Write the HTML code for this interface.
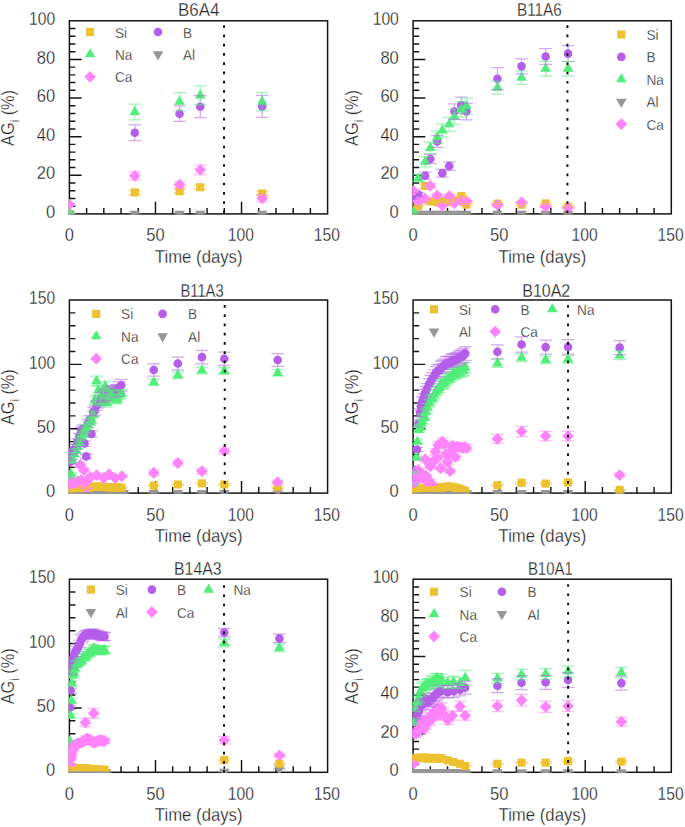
<!DOCTYPE html>
<html><head><meta charset="utf-8"><title>AG plots</title>
<style>html,body{margin:0;padding:0;background:#fff}svg{display:block}text{font-family:"Liberation Sans",sans-serif;fill:#222222;stroke:#fff;stroke-width:0.28px}</style></head><body>
<svg width="685" height="827" viewBox="0 0 685 827">
<rect width="685" height="827" fill="#fff"/>
<g>
<path d="M86.61 213.9v-6M103.83 213.9v-6M121.04 213.9v-6M138.25 213.9v-6M155.47 213.9v-12.2M172.68 213.9v-6M189.89 213.9v-6M207.11 213.9v-6M224.32 213.9v-6M241.53 213.9v-12.2M258.75 213.9v-6M275.96 213.9v-6M293.17 213.9v-6M310.39 213.9v-6M69.4 206.18h6M69.4 198.45h6M69.4 190.73h6M69.4 183h6M69.4 175.28h12.2M69.4 167.56h6M69.4 159.83h6M69.4 152.11h6M69.4 144.38h6M69.4 136.66h12.2M69.4 128.94h6M69.4 121.21h6M69.4 113.49h6M69.4 105.76h6M69.4 98.04h12.2M69.4 90.32h6M69.4 82.59h6M69.4 74.87h6M69.4 67.14h6M69.4 59.42h12.2M69.4 51.7h6M69.4 43.97h6M69.4 36.25h6M69.4 28.52h6" stroke="#141414" stroke-width="1.45" fill="none"/>
<rect x="69.4" y="20.8" width="258.2" height="193.1" fill="none" stroke="#141414" stroke-width="1.5"/>
<text transform="translate(69.4,241.4) scale(0.93,1)" font-size="17.8" text-anchor="middle">0</text>
<text transform="translate(155.47,241.4) scale(0.93,1)" font-size="17.8" text-anchor="middle">50</text>
<text transform="translate(240.83,241.4) scale(0.88,1)" font-size="17.8" text-anchor="middle">100</text>
<text transform="translate(326.9,241.4) scale(0.88,1)" font-size="17.8" text-anchor="middle">150</text>
<text transform="translate(55.1,218.05) scale(0.93,1)" font-size="17.8" text-anchor="end">0</text>
<text transform="translate(55.1,179.43) scale(0.93,1)" font-size="17.8" text-anchor="end">20</text>
<text transform="translate(55.1,140.81) scale(0.93,1)" font-size="17.8" text-anchor="end">40</text>
<text transform="translate(55.1,102.19) scale(0.93,1)" font-size="17.8" text-anchor="end">60</text>
<text transform="translate(55.1,63.57) scale(0.93,1)" font-size="17.8" text-anchor="end">80</text>
<text transform="translate(55.1,24.95) scale(0.88,1)" font-size="17.8" text-anchor="end">100</text>
<text transform="translate(198.7,262.8) scale(0.93,1)" font-size="18" text-anchor="middle">Time (days)</text>
<text transform="translate(14.4,117.95) rotate(-90) scale(0.885,1)" font-size="18.4" text-anchor="middle">AG<tspan font-size="12.5" dy="5">i</tspan><tspan dy="-5"> (%)</tspan></text>
<text transform="translate(178.04,16.4) scale(0.94,1)" font-size="18" text-anchor="start">B6A4</text>
<rect x="86.05" y="27.95" width="8.1" height="8.1" fill="#ECC230"/>
<text transform="translate(115,37.5) scale(0.95,1)" font-size="14.3" text-anchor="start">Si</text>
<circle cx="158" cy="32" r="4.3" fill="#B45EEA"/>
<text transform="translate(182.9,37.5) scale(0.95,1)" font-size="14.3" text-anchor="start">B</text>
<path d="M90.1 48.17l5.3 9.2h-10.6z" fill="#52EE7A"/>
<text transform="translate(115,59.8) scale(0.95,1)" font-size="14.3" text-anchor="start">Na</text>
<path d="M158 60.43l-5.3 -9.2h10.6z" fill="#979797"/>
<text transform="translate(182.9,59.8) scale(0.95,1)" font-size="14.3" text-anchor="start">Al</text>
<path d="M90.1 70.9l5.8 5.9l-5.8 5.9l-5.8 -5.9z" fill="#FF84FA"/>
<text transform="translate(115,82.3) scale(0.95,1)" font-size="14.3" text-anchor="start">Ca</text>
<clipPath id="c0"><rect x="68.65" y="20.05" width="259.7" height="194.6"/></clipPath>
<g clip-path="url(#c0)">
<path d="M69.4 220.03l-5.3 -9.2h10.6z" fill="#979797"/><path d="M134.81 220.03l-5.3 -9.2h10.6z" fill="#979797"/><path d="M179.57 220.03l-5.3 -9.2h10.6z" fill="#979797"/><path d="M200.22 220.03l-5.3 -9.2h10.6z" fill="#979797"/><path d="M262.19 220.03l-5.3 -9.2h10.6z" fill="#979797"/>
<rect x="65.35" y="209.85" width="8.1" height="8.1" fill="#ECC230"/><rect x="130.76" y="188.42" width="8.1" height="8.1" fill="#ECC230"/><rect x="175.52" y="187.26" width="8.1" height="8.1" fill="#ECC230"/><rect x="196.17" y="183.2" width="8.1" height="8.1" fill="#ECC230"/><rect x="258.14" y="189.38" width="8.1" height="8.1" fill="#ECC230"/>
<circle cx="69.4" cy="213.9" r="4.3" fill="#B45EEA"/><circle cx="134.81" cy="132.8" r="4.3" fill="#B45EEA"/><circle cx="179.57" cy="113.68" r="4.3" fill="#B45EEA"/><circle cx="200.22" cy="106.73" r="4.3" fill="#B45EEA"/><circle cx="262.19" cy="106.34" r="4.3" fill="#B45EEA"/>
<path d="M69.4 206.61l5.3 9.2h-10.6z" fill="#52EE7A"/><path d="M134.81 105.81l5.3 9.2h-10.6z" fill="#52EE7A"/><path d="M179.57 95.58l5.3 9.2h-10.6z" fill="#52EE7A"/><path d="M200.22 89.21l5.3 9.2h-10.6z" fill="#52EE7A"/><path d="M262.19 95.58l5.3 9.2h-10.6z" fill="#52EE7A"/>
<path d="M69.4 198.73l5.8 5.9l-5.8 5.9l-5.8 -5.9z" fill="#FF84FA"/><path d="M134.81 169.96l5.8 5.9l-5.8 5.9l-5.8 -5.9z" fill="#FF84FA"/><path d="M179.57 178.84l5.8 5.9l-5.8 5.9l-5.8 -5.9z" fill="#FF84FA"/><path d="M200.22 163.97l5.8 5.9l-5.8 5.9l-5.8 -5.9z" fill="#FF84FA"/><path d="M262.19 192.36l5.8 5.9l-5.8 5.9l-5.8 -5.9z" fill="#FF84FA"/>
<g fill="none" stroke-width="1.25" stroke-opacity="0.55"><path d="M63.1 213.9h12.6" stroke="#979797"/><path d="M128.51 213.9h12.6" stroke="#979797"/><path d="M173.27 213.9h12.6" stroke="#979797"/><path d="M193.92 213.9h12.6" stroke="#979797"/><path d="M255.89 213.9h12.6" stroke="#979797"/><path d="M63.1 213.9h12.6" stroke="#ECC230"/><path d="M134.81 190.53v3.86M128.51 190.53h12.6M128.51 194.4h12.6" stroke="#ECC230"/><path d="M179.57 189.38v3.86M173.27 189.38h12.6M173.27 193.24h12.6" stroke="#ECC230"/><path d="M200.22 185.32v3.86M193.92 185.32h12.6M193.92 189.18h12.6" stroke="#ECC230"/><path d="M262.19 191.5v3.86M255.89 191.5h12.6M255.89 195.36h12.6" stroke="#ECC230"/><path d="M63.1 213.9h12.6" stroke="#B45EEA"/><path d="M134.81 124.88v15.83M128.51 124.88h12.6M128.51 140.72h12.6" stroke="#B45EEA"/><path d="M179.57 105.96v15.45M173.27 105.96h12.6M173.27 121.41h12.6" stroke="#B45EEA"/><path d="M200.22 95.72v22.01M193.92 95.72h12.6M193.92 117.74h12.6" stroke="#B45EEA"/><path d="M262.19 95.34v22.01M255.89 95.34h12.6M255.89 117.35h12.6" stroke="#B45EEA"/><path d="M63.1 212.74h12.6" stroke="#52EE7A"/><path d="M134.81 104.03v15.83M128.51 104.03h12.6M128.51 119.86h12.6" stroke="#52EE7A"/><path d="M179.57 92.63v18.15M173.27 92.63h12.6M173.27 110.78h12.6" stroke="#52EE7A"/><path d="M200.22 85.87v18.92M193.92 85.87h12.6M193.92 104.8h12.6" stroke="#52EE7A"/><path d="M262.19 92.63v18.15M255.89 92.63h12.6M255.89 110.78h12.6" stroke="#52EE7A"/><path d="M69.4 203.86v1.54M63.1 203.86h12.6M63.1 205.4h12.6" stroke="#FF84FA"/><path d="M134.81 171.8v8.11M128.51 171.8h12.6M128.51 179.91h12.6" stroke="#FF84FA"/><path d="M179.57 181.85v5.79M173.27 181.85h12.6M173.27 187.64h12.6" stroke="#FF84FA"/><path d="M200.22 165.24v9.27M193.92 165.24h12.6M193.92 174.51h12.6" stroke="#FF84FA"/><path d="M262.19 194.98v6.57M255.89 194.98h12.6M255.89 201.54h12.6" stroke="#FF84FA"/></g>
</g>
<path d="M224.02 25.25V214.4" stroke="#111" stroke-width="2" stroke-dasharray="2.7 6.56" fill="none"/>
</g>
<g>
<path d="M430.31 213.9v-6M447.53 213.9v-6M464.74 213.9v-6M481.95 213.9v-6M499.17 213.9v-12.2M516.38 213.9v-6M533.59 213.9v-6M550.81 213.9v-6M568.02 213.9v-6M585.23 213.9v-12.2M602.45 213.9v-6M619.66 213.9v-6M636.87 213.9v-6M654.09 213.9v-6M413.1 206.18h6M413.1 198.45h6M413.1 190.73h6M413.1 183h6M413.1 175.28h12.2M413.1 167.56h6M413.1 159.83h6M413.1 152.11h6M413.1 144.38h6M413.1 136.66h12.2M413.1 128.94h6M413.1 121.21h6M413.1 113.49h6M413.1 105.76h6M413.1 98.04h12.2M413.1 90.32h6M413.1 82.59h6M413.1 74.87h6M413.1 67.14h6M413.1 59.42h12.2M413.1 51.7h6M413.1 43.97h6M413.1 36.25h6M413.1 28.52h6" stroke="#141414" stroke-width="1.45" fill="none"/>
<rect x="413.1" y="20.8" width="258.2" height="193.1" fill="none" stroke="#141414" stroke-width="1.5"/>
<text transform="translate(413.1,241.4) scale(0.93,1)" font-size="17.8" text-anchor="middle">0</text>
<text transform="translate(499.17,241.4) scale(0.93,1)" font-size="17.8" text-anchor="middle">50</text>
<text transform="translate(584.53,241.4) scale(0.88,1)" font-size="17.8" text-anchor="middle">100</text>
<text transform="translate(670.6,241.4) scale(0.88,1)" font-size="17.8" text-anchor="middle">150</text>
<text transform="translate(398.8,218.05) scale(0.93,1)" font-size="17.8" text-anchor="end">0</text>
<text transform="translate(398.8,179.43) scale(0.93,1)" font-size="17.8" text-anchor="end">20</text>
<text transform="translate(398.8,140.81) scale(0.93,1)" font-size="17.8" text-anchor="end">40</text>
<text transform="translate(398.8,102.19) scale(0.93,1)" font-size="17.8" text-anchor="end">60</text>
<text transform="translate(398.8,63.57) scale(0.93,1)" font-size="17.8" text-anchor="end">80</text>
<text transform="translate(398.8,24.95) scale(0.88,1)" font-size="17.8" text-anchor="end">100</text>
<text transform="translate(542.4,262.8) scale(0.93,1)" font-size="18" text-anchor="middle">Time (days)</text>
<text transform="translate(358.1,117.95) rotate(-90) scale(0.885,1)" font-size="18.4" text-anchor="middle">AG<tspan font-size="12.5" dy="5">i</tspan><tspan dy="-5"> (%)</tspan></text>
<text transform="translate(516.95,16.4) scale(0.85,1)" font-size="18" text-anchor="start">B11A6</text>
<rect x="617.25" y="30.45" width="8.1" height="8.1" fill="#ECC230"/>
<text transform="translate(646.4,40) scale(0.95,1)" font-size="14.3" text-anchor="start">Si</text>
<circle cx="621.3" cy="56.9" r="4.3" fill="#B45EEA"/>
<text transform="translate(646.4,62.4) scale(0.95,1)" font-size="14.3" text-anchor="start">B</text>
<path d="M621.3 73.17l5.3 9.2h-10.6z" fill="#52EE7A"/>
<text transform="translate(646.4,84.8) scale(0.95,1)" font-size="14.3" text-anchor="start">Na</text>
<path d="M621.3 107.83l-5.3 -9.2h10.6z" fill="#979797"/>
<text transform="translate(646.4,107.2) scale(0.95,1)" font-size="14.3" text-anchor="start">Al</text>
<path d="M621.3 118.2l5.8 5.9l-5.8 5.9l-5.8 -5.9z" fill="#FF84FA"/>
<text transform="translate(646.4,129.6) scale(0.95,1)" font-size="14.3" text-anchor="start">Ca</text>
<clipPath id="c1"><rect x="412.35" y="20.05" width="259.7" height="194.6"/></clipPath>
<g clip-path="url(#c1)">
<path d="M413.62 220.03l-5.3 -9.2h10.6z" fill="#979797"/><path d="M414.82 220.03l-5.3 -9.2h10.6z" fill="#979797"/><path d="M418.26 220.03l-5.3 -9.2h10.6z" fill="#979797"/><path d="M425.15 220.03l-5.3 -9.2h10.6z" fill="#979797"/><path d="M430.31 220.03l-5.3 -9.2h10.6z" fill="#979797"/><path d="M437.2 220.03l-5.3 -9.2h10.6z" fill="#979797"/><path d="M442.36 220.03l-5.3 -9.2h10.6z" fill="#979797"/><path d="M449.25 220.03l-5.3 -9.2h10.6z" fill="#979797"/><path d="M454.41 220.03l-5.3 -9.2h10.6z" fill="#979797"/><path d="M461.3 220.03l-5.3 -9.2h10.6z" fill="#979797"/><path d="M466.46 220.03l-5.3 -9.2h10.6z" fill="#979797"/><path d="M497.45 220.03l-5.3 -9.2h10.6z" fill="#979797"/><path d="M521.54 220.03l-5.3 -9.2h10.6z" fill="#979797"/><path d="M545.64 220.03l-5.3 -9.2h10.6z" fill="#979797"/><path d="M568.02 220.03l-5.3 -9.2h10.6z" fill="#979797"/>
<rect x="414.21" y="202.13" width="8.1" height="8.1" fill="#ECC230"/><rect x="421.1" y="181.85" width="8.1" height="8.1" fill="#ECC230"/><rect x="426.26" y="197.3" width="8.1" height="8.1" fill="#ECC230"/><rect x="433.15" y="198.26" width="8.1" height="8.1" fill="#ECC230"/><rect x="438.31" y="196.91" width="8.1" height="8.1" fill="#ECC230"/><rect x="445.2" y="197.88" width="8.1" height="8.1" fill="#ECC230"/><rect x="450.36" y="196.33" width="8.1" height="8.1" fill="#ECC230"/><rect x="457.25" y="192.08" width="8.1" height="8.1" fill="#ECC230"/><rect x="462.41" y="200.58" width="8.1" height="8.1" fill="#ECC230"/><rect x="493.4" y="199.62" width="8.1" height="8.1" fill="#ECC230"/><rect x="517.49" y="200.58" width="8.1" height="8.1" fill="#ECC230"/><rect x="541.59" y="199.42" width="8.1" height="8.1" fill="#ECC230"/><rect x="563.97" y="202.71" width="8.1" height="8.1" fill="#ECC230"/>
<circle cx="413.44" cy="197.49" r="4.3" fill="#B45EEA"/><circle cx="418.26" cy="194.59" r="4.3" fill="#B45EEA"/><circle cx="425.15" cy="175.67" r="4.3" fill="#B45EEA"/><circle cx="430.31" cy="159.06" r="4.3" fill="#B45EEA"/><circle cx="437.2" cy="141.49" r="4.3" fill="#B45EEA"/><circle cx="442.36" cy="173.16" r="4.3" fill="#B45EEA"/><circle cx="449.25" cy="166.01" r="4.3" fill="#B45EEA"/><circle cx="454.41" cy="111.56" r="4.3" fill="#B45EEA"/><circle cx="461.3" cy="105.38" r="4.3" fill="#B45EEA"/><circle cx="466.46" cy="111.56" r="4.3" fill="#B45EEA"/><circle cx="497.45" cy="78.73" r="4.3" fill="#B45EEA"/><circle cx="521.54" cy="66.37" r="4.3" fill="#B45EEA"/><circle cx="545.64" cy="56.52" r="4.3" fill="#B45EEA"/><circle cx="568.02" cy="53.63" r="4.3" fill="#B45EEA"/>
<path d="M413.44 205.84l5.3 9.2h-10.6z" fill="#52EE7A"/><path d="M418.26 172.24l5.3 9.2h-10.6z" fill="#52EE7A"/><path d="M425.15 155.63l5.3 9.2h-10.6z" fill="#52EE7A"/><path d="M430.31 141.73l5.3 9.2h-10.6z" fill="#52EE7A"/><path d="M437.2 131.11l5.3 9.2h-10.6z" fill="#52EE7A"/><path d="M442.36 124.35l5.3 9.2h-10.6z" fill="#52EE7A"/><path d="M449.25 118.17l5.3 9.2h-10.6z" fill="#52EE7A"/><path d="M454.41 110.64l5.3 9.2h-10.6z" fill="#52EE7A"/><path d="M461.3 103.3l5.3 9.2h-10.6z" fill="#52EE7A"/><path d="M466.46 99.83l5.3 9.2h-10.6z" fill="#52EE7A"/><path d="M497.45 81.48l5.3 9.2h-10.6z" fill="#52EE7A"/><path d="M521.54 71.44l5.3 9.2h-10.6z" fill="#52EE7A"/><path d="M545.64 62.56l5.3 9.2h-10.6z" fill="#52EE7A"/><path d="M568.02 62.56l5.3 9.2h-10.6z" fill="#52EE7A"/>
<path d="M413.44 185.02l5.8 5.9l-5.8 5.9l-5.8 -5.9z" fill="#FF84FA"/><path d="M418.26 195.83l5.8 5.9l-5.8 5.9l-5.8 -5.9z" fill="#FF84FA"/><path d="M425.15 192.75l5.8 5.9l-5.8 5.9l-5.8 -5.9z" fill="#FF84FA"/><path d="M430.31 180l5.8 5.9l-5.8 5.9l-5.8 -5.9z" fill="#FF84FA"/><path d="M437.2 189.66l5.8 5.9l-5.8 5.9l-5.8 -5.9z" fill="#FF84FA"/><path d="M442.36 199.5l5.8 5.9l-5.8 5.9l-5.8 -5.9z" fill="#FF84FA"/><path d="M449.25 190.23l5.8 5.9l-5.8 5.9l-5.8 -5.9z" fill="#FF84FA"/><path d="M454.41 197.38l5.8 5.9l-5.8 5.9l-5.8 -5.9z" fill="#FF84FA"/><path d="M461.3 194.87l5.8 5.9l-5.8 5.9l-5.8 -5.9z" fill="#FF84FA"/><path d="M466.46 195.45l5.8 5.9l-5.8 5.9l-5.8 -5.9z" fill="#FF84FA"/><path d="M497.45 199.12l5.8 5.9l-5.8 5.9l-5.8 -5.9z" fill="#FF84FA"/><path d="M521.54 196.61l5.8 5.9l-5.8 5.9l-5.8 -5.9z" fill="#FF84FA"/><path d="M545.64 200.66l5.8 5.9l-5.8 5.9l-5.8 -5.9z" fill="#FF84FA"/><path d="M568.02 201.82l5.8 5.9l-5.8 5.9l-5.8 -5.9z" fill="#FF84FA"/>
<g fill="none" stroke-width="1.25" stroke-opacity="0.55"><path d="M407.32 213.9h12.6" stroke="#979797"/><path d="M408.52 213.9h12.6" stroke="#979797"/><path d="M411.96 213.9h12.6" stroke="#979797"/><path d="M418.85 213.9h12.6" stroke="#979797"/><path d="M424.01 213.9h12.6" stroke="#979797"/><path d="M430.9 213.9h12.6" stroke="#979797"/><path d="M436.06 213.9h12.6" stroke="#979797"/><path d="M442.95 213.9h12.6" stroke="#979797"/><path d="M448.11 213.9h12.6" stroke="#979797"/><path d="M455 213.9h12.6" stroke="#979797"/><path d="M460.16 213.9h12.6" stroke="#979797"/><path d="M491.15 213.9h12.6" stroke="#979797"/><path d="M515.24 213.9h12.6" stroke="#979797"/><path d="M539.34 213.9h12.6" stroke="#979797"/><path d="M561.72 213.9h12.6" stroke="#979797"/><path d="M418.26 205.4v1.54M411.96 205.4h12.6M411.96 206.95h12.6" stroke="#ECC230"/><path d="M425.15 183.97v3.86M418.85 183.97h12.6M418.85 187.83h12.6" stroke="#ECC230"/><path d="M430.31 200.19v2.32M424.01 200.19h12.6M424.01 202.51h12.6" stroke="#ECC230"/><path d="M437.2 201.16v2.32M430.9 201.16h12.6M430.9 203.47h12.6" stroke="#ECC230"/><path d="M442.36 199.8v2.32M436.06 199.8h12.6M436.06 202.12h12.6" stroke="#ECC230"/><path d="M449.25 200.77v2.32M442.95 200.77h12.6M442.95 203.09h12.6" stroke="#ECC230"/><path d="M454.41 199.22v2.32M448.11 199.22h12.6M448.11 201.54h12.6" stroke="#ECC230"/><path d="M461.3 194.59v3.09M455 194.59h12.6M455 197.68h12.6" stroke="#ECC230"/><path d="M466.46 203.67v1.93M460.16 203.67h12.6M460.16 205.6h12.6" stroke="#ECC230"/><path d="M497.45 202.7v1.93M491.15 202.7h12.6M491.15 204.63h12.6" stroke="#ECC230"/><path d="M521.54 203.67v1.93M515.24 203.67h12.6M515.24 205.6h12.6" stroke="#ECC230"/><path d="M545.64 202.51v1.93M539.34 202.51h12.6M539.34 204.44h12.6" stroke="#ECC230"/><path d="M568.02 205.98v1.54M561.72 205.98h12.6M561.72 207.53h12.6" stroke="#ECC230"/><path d="M413.44 195.94v3.09M407.14 195.94h12.6M407.14 199.03h12.6" stroke="#B45EEA"/><path d="M418.26 192.66v3.86M411.96 192.66h12.6M411.96 196.52h12.6" stroke="#B45EEA"/><path d="M425.15 172.19v6.95M418.85 172.19h12.6M418.85 179.14h12.6" stroke="#B45EEA"/><path d="M430.31 154.43v9.27M424.01 154.43h12.6M424.01 163.69h12.6" stroke="#B45EEA"/><path d="M437.2 135.69v11.59M430.9 135.69h12.6M430.9 147.28h12.6" stroke="#B45EEA"/><path d="M442.36 169.29v7.72M436.06 169.29h12.6M436.06 177.02h12.6" stroke="#B45EEA"/><path d="M449.25 161.76v8.5M442.95 161.76h12.6M442.95 170.26h12.6" stroke="#B45EEA"/><path d="M454.41 103.83v15.45M448.11 103.83h12.6M448.11 119.28h12.6" stroke="#B45EEA"/><path d="M461.3 97.07v16.61M455 97.07h12.6M455 113.68h12.6" stroke="#B45EEA"/><path d="M466.46 103.25v16.61M460.16 103.25h12.6M460.16 119.86h12.6" stroke="#B45EEA"/><path d="M497.45 67.72v22.01M491.15 67.72h12.6M491.15 89.74h12.6" stroke="#B45EEA"/><path d="M521.54 58.84v15.06M515.24 58.84h12.6M515.24 73.9h12.6" stroke="#B45EEA"/><path d="M545.64 48.61v15.83M539.34 48.61h12.6M539.34 64.44h12.6" stroke="#B45EEA"/><path d="M568.02 45.52v16.22M561.72 45.52h12.6M561.72 61.74h12.6" stroke="#B45EEA"/><path d="M407.14 211.97h12.6" stroke="#52EE7A"/><path d="M418.26 174.89v6.95M411.96 174.89h12.6M411.96 181.85h12.6" stroke="#52EE7A"/><path d="M425.15 156.74v10.04M418.85 156.74h12.6M418.85 166.78h12.6" stroke="#52EE7A"/><path d="M430.31 142.07v11.59M424.01 142.07h12.6M424.01 153.65h12.6" stroke="#52EE7A"/><path d="M437.2 131.06v12.36M430.9 131.06h12.6M430.9 143.42h12.6" stroke="#52EE7A"/><path d="M442.36 123.92v13.13M436.06 123.92h12.6M436.06 137.05h12.6" stroke="#52EE7A"/><path d="M449.25 117.35v13.9M442.95 117.35h12.6M442.95 131.25h12.6" stroke="#52EE7A"/><path d="M454.41 109.43v14.68M448.11 109.43h12.6M448.11 124.11h12.6" stroke="#52EE7A"/><path d="M461.3 101.71v15.45M455 101.71h12.6M455 117.16h12.6" stroke="#52EE7A"/><path d="M466.46 98.04v15.83M460.16 98.04h12.6M460.16 113.87h12.6" stroke="#52EE7A"/><path d="M497.45 81.05v13.13M491.15 81.05h12.6M491.15 94.18h12.6" stroke="#52EE7A"/><path d="M521.54 70.81v13.52M515.24 70.81h12.6M515.24 84.33h12.6" stroke="#52EE7A"/><path d="M545.64 61.35v14.68M539.34 61.35h12.6M539.34 76.03h12.6" stroke="#52EE7A"/><path d="M568.02 61.35v14.68M561.72 61.35h12.6M561.72 76.03h12.6" stroke="#52EE7A"/><path d="M413.44 188.99v3.86M407.14 188.99h12.6M407.14 192.85h12.6" stroke="#FF84FA"/><path d="M418.26 200.58v2.32M411.96 200.58h12.6M411.96 202.89h12.6" stroke="#FF84FA"/><path d="M425.15 197.29v2.7M418.85 197.29h12.6M418.85 200h12.6" stroke="#FF84FA"/><path d="M430.31 183.58v4.63M424.01 183.58h12.6M424.01 188.22h12.6" stroke="#FF84FA"/><path d="M437.2 193.82v3.48M430.9 193.82h12.6M430.9 197.29h12.6" stroke="#FF84FA"/><path d="M442.36 204.44v1.93M436.06 204.44h12.6M436.06 206.37h12.6" stroke="#FF84FA"/><path d="M449.25 194.4v3.48M442.95 194.4h12.6M442.95 197.87h12.6" stroke="#FF84FA"/><path d="M454.41 202.31v1.93M448.11 202.31h12.6M448.11 204.25h12.6" stroke="#FF84FA"/><path d="M461.3 199.61v2.32M455 199.61h12.6M455 201.93h12.6" stroke="#FF84FA"/><path d="M466.46 200.19v2.32M460.16 200.19h12.6M460.16 202.51h12.6" stroke="#FF84FA"/><path d="M497.45 204.05v1.93M491.15 204.05h12.6M491.15 205.98h12.6" stroke="#FF84FA"/><path d="M521.54 201.54v1.93M515.24 201.54h12.6M515.24 203.47h12.6" stroke="#FF84FA"/><path d="M545.64 205.79v1.54M539.34 205.79h12.6M539.34 207.33h12.6" stroke="#FF84FA"/><path d="M568.02 206.95v1.54M561.72 206.95h12.6M561.72 208.49h12.6" stroke="#FF84FA"/></g>
</g>
<path d="M567.42 25.35V214.4" stroke="#111" stroke-width="2" stroke-dasharray="2.7 6.56" fill="none"/>
</g>
<g>
<path d="M86.61 493.1v-6M103.83 493.1v-6M121.04 493.1v-6M138.25 493.1v-6M155.47 493.1v-12.2M172.68 493.1v-6M189.89 493.1v-6M207.11 493.1v-6M224.32 493.1v-6M241.53 493.1v-12.2M258.75 493.1v-6M275.96 493.1v-6M293.17 493.1v-6M310.39 493.1v-6M69.4 480.23h6M69.4 467.35h6M69.4 454.48h6M69.4 441.61h6M69.4 428.73h12.2M69.4 415.86h6M69.4 402.99h6M69.4 390.11h6M69.4 377.24h6M69.4 364.37h12.2M69.4 351.49h6M69.4 338.62h6M69.4 325.75h6M69.4 312.87h6" stroke="#141414" stroke-width="1.45" fill="none"/>
<rect x="69.4" y="300" width="258.2" height="193.1" fill="none" stroke="#141414" stroke-width="1.5"/>
<text transform="translate(69.4,520.6) scale(0.93,1)" font-size="17.8" text-anchor="middle">0</text>
<text transform="translate(155.47,520.6) scale(0.93,1)" font-size="17.8" text-anchor="middle">50</text>
<text transform="translate(240.83,520.6) scale(0.88,1)" font-size="17.8" text-anchor="middle">100</text>
<text transform="translate(326.9,520.6) scale(0.88,1)" font-size="17.8" text-anchor="middle">150</text>
<text transform="translate(55.1,497.25) scale(0.93,1)" font-size="17.8" text-anchor="end">0</text>
<text transform="translate(55.1,432.88) scale(0.93,1)" font-size="17.8" text-anchor="end">50</text>
<text transform="translate(55.1,368.52) scale(0.88,1)" font-size="17.8" text-anchor="end">100</text>
<text transform="translate(55.1,304.15) scale(0.88,1)" font-size="17.8" text-anchor="end">150</text>
<text transform="translate(198.7,542) scale(0.93,1)" font-size="18" text-anchor="middle">Time (days)</text>
<text transform="translate(14.4,397.15) rotate(-90) scale(0.885,1)" font-size="18.4" text-anchor="middle">AG<tspan font-size="12.5" dy="5">i</tspan><tspan dy="-5"> (%)</tspan></text>
<text transform="translate(180.49,297) scale(0.82,1)" font-size="18" text-anchor="start">B11A3</text>
<rect x="92.15" y="309.85" width="8.1" height="8.1" fill="#ECC230"/>
<text transform="translate(121.1,319.4) scale(0.95,1)" font-size="14.3" text-anchor="start">Si</text>
<circle cx="162.6" cy="313.9" r="4.3" fill="#B45EEA"/>
<text transform="translate(188.1,319.4) scale(0.95,1)" font-size="14.3" text-anchor="start">B</text>
<path d="M96.2 330.17l5.3 9.2h-10.6z" fill="#52EE7A"/>
<text transform="translate(121.1,341.8) scale(0.95,1)" font-size="14.3" text-anchor="start">Na</text>
<path d="M162.6 342.43l-5.3 -9.2h10.6z" fill="#979797"/>
<text transform="translate(188.1,341.8) scale(0.95,1)" font-size="14.3" text-anchor="start">Al</text>
<path d="M96.2 352.8l5.8 5.9l-5.8 5.9l-5.8 -5.9z" fill="#FF84FA"/>
<text transform="translate(121.1,364.2) scale(0.95,1)" font-size="14.3" text-anchor="start">Ca</text>
<clipPath id="c2"><rect x="68.65" y="299.25" width="259.7" height="194.6"/></clipPath>
<g clip-path="url(#c2)">
<path d="M70.6 499.23l-5.3 -9.2h10.6z" fill="#979797"/><path d="M72.33 499.23l-5.3 -9.2h10.6z" fill="#979797"/><path d="M74.05 499.23l-5.3 -9.2h10.6z" fill="#979797"/><path d="M75.77 499.23l-5.3 -9.2h10.6z" fill="#979797"/><path d="M77.49 499.23l-5.3 -9.2h10.6z" fill="#979797"/><path d="M79.21 499.23l-5.3 -9.2h10.6z" fill="#979797"/><path d="M80.93 499.23l-5.3 -9.2h10.6z" fill="#979797"/><path d="M82.65 499.23l-5.3 -9.2h10.6z" fill="#979797"/><path d="M84.38 499.23l-5.3 -9.2h10.6z" fill="#979797"/><path d="M86.1 499.23l-5.3 -9.2h10.6z" fill="#979797"/><path d="M87.82 499.23l-5.3 -9.2h10.6z" fill="#979797"/><path d="M89.54 499.23l-5.3 -9.2h10.6z" fill="#979797"/><path d="M91.26 499.23l-5.3 -9.2h10.6z" fill="#979797"/><path d="M92.98 499.23l-5.3 -9.2h10.6z" fill="#979797"/><path d="M94.7 499.23l-5.3 -9.2h10.6z" fill="#979797"/><path d="M96.42 499.23l-5.3 -9.2h10.6z" fill="#979797"/><path d="M98.15 499.23l-5.3 -9.2h10.6z" fill="#979797"/><path d="M99.87 499.23l-5.3 -9.2h10.6z" fill="#979797"/><path d="M101.59 499.23l-5.3 -9.2h10.6z" fill="#979797"/><path d="M103.31 499.23l-5.3 -9.2h10.6z" fill="#979797"/><path d="M105.03 499.23l-5.3 -9.2h10.6z" fill="#979797"/><path d="M106.75 499.23l-5.3 -9.2h10.6z" fill="#979797"/><path d="M108.47 499.23l-5.3 -9.2h10.6z" fill="#979797"/><path d="M110.2 499.23l-5.3 -9.2h10.6z" fill="#979797"/><path d="M111.92 499.23l-5.3 -9.2h10.6z" fill="#979797"/><path d="M113.64 499.23l-5.3 -9.2h10.6z" fill="#979797"/><path d="M115.36 499.23l-5.3 -9.2h10.6z" fill="#979797"/><path d="M117.08 499.23l-5.3 -9.2h10.6z" fill="#979797"/><path d="M118.8 499.23l-5.3 -9.2h10.6z" fill="#979797"/><path d="M120.52 499.23l-5.3 -9.2h10.6z" fill="#979797"/><path d="M122.42 499.23l-5.3 -9.2h10.6z" fill="#979797"/><path d="M123.79 499.23l-5.3 -9.2h10.6z" fill="#979797"/><path d="M153.75 499.23l-5.3 -9.2h10.6z" fill="#979797"/><path d="M177.84 499.23l-5.3 -9.2h10.6z" fill="#979797"/><path d="M201.94 499.23l-5.3 -9.2h10.6z" fill="#979797"/><path d="M224.32 499.23l-5.3 -9.2h10.6z" fill="#979797"/><path d="M277.68 497.17l-5.3 -9.2h10.6z" fill="#979797"/>
<rect x="65.87" y="487.76" width="8.1" height="8.1" fill="#ECC230"/><rect x="66.73" y="487.12" width="8.1" height="8.1" fill="#ECC230"/><rect x="68.45" y="486.48" width="8.1" height="8.1" fill="#ECC230"/><rect x="70.17" y="485.83" width="8.1" height="8.1" fill="#ECC230"/><rect x="71.89" y="485.83" width="8.1" height="8.1" fill="#ECC230"/><rect x="73.61" y="485.19" width="8.1" height="8.1" fill="#ECC230"/><rect x="75.33" y="485.19" width="8.1" height="8.1" fill="#ECC230"/><rect x="77.06" y="485.19" width="8.1" height="8.1" fill="#ECC230"/><rect x="78.78" y="484.54" width="8.1" height="8.1" fill="#ECC230"/><rect x="80.5" y="484.54" width="8.1" height="8.1" fill="#ECC230"/><rect x="82.22" y="483.9" width="8.1" height="8.1" fill="#ECC230"/><rect x="83.94" y="483.9" width="8.1" height="8.1" fill="#ECC230"/><rect x="85.66" y="483.26" width="8.1" height="8.1" fill="#ECC230"/><rect x="87.38" y="483.13" width="8.1" height="8.1" fill="#ECC230"/><rect x="89.1" y="482.87" width="8.1" height="8.1" fill="#ECC230"/><rect x="90.83" y="482.61" width="8.1" height="8.1" fill="#ECC230"/><rect x="92.55" y="482.61" width="8.1" height="8.1" fill="#ECC230"/><rect x="94.27" y="482.61" width="8.1" height="8.1" fill="#ECC230"/><rect x="95.99" y="482.61" width="8.1" height="8.1" fill="#ECC230"/><rect x="97.71" y="482.87" width="8.1" height="8.1" fill="#ECC230"/><rect x="99.43" y="482.87" width="8.1" height="8.1" fill="#ECC230"/><rect x="101.15" y="482.87" width="8.1" height="8.1" fill="#ECC230"/><rect x="102.88" y="483.13" width="8.1" height="8.1" fill="#ECC230"/><rect x="104.6" y="483.13" width="8.1" height="8.1" fill="#ECC230"/><rect x="106.32" y="483.13" width="8.1" height="8.1" fill="#ECC230"/><rect x="108.04" y="483.26" width="8.1" height="8.1" fill="#ECC230"/><rect x="109.76" y="483.26" width="8.1" height="8.1" fill="#ECC230"/><rect x="111.48" y="483.39" width="8.1" height="8.1" fill="#ECC230"/><rect x="113.2" y="483.39" width="8.1" height="8.1" fill="#ECC230"/><rect x="114.92" y="483.51" width="8.1" height="8.1" fill="#ECC230"/><rect x="117.51" y="483.64" width="8.1" height="8.1" fill="#ECC230"/><rect x="149.7" y="481.58" width="8.1" height="8.1" fill="#ECC230"/><rect x="173.79" y="480.42" width="8.1" height="8.1" fill="#ECC230"/><rect x="197.89" y="479.27" width="8.1" height="8.1" fill="#ECC230"/><rect x="220.27" y="480.42" width="8.1" height="8.1" fill="#ECC230"/><rect x="273.63" y="483.26" width="8.1" height="8.1" fill="#ECC230"/>
<circle cx="69.92" cy="462.2" r="4.3" fill="#B45EEA"/><circle cx="70.78" cy="457.05" r="4.3" fill="#B45EEA"/><circle cx="72.5" cy="451.65" r="4.3" fill="#B45EEA"/><circle cx="74.22" cy="449.33" r="4.3" fill="#B45EEA"/><circle cx="75.94" cy="446.76" r="4.3" fill="#B45EEA"/><circle cx="77.66" cy="441.61" r="4.3" fill="#B45EEA"/><circle cx="79.38" cy="436.46" r="4.3" fill="#B45EEA"/><circle cx="81.11" cy="430.66" r="4.3" fill="#B45EEA"/><circle cx="82.83" cy="428.73" r="4.3" fill="#B45EEA"/><circle cx="84.55" cy="443.54" r="4.3" fill="#B45EEA"/><circle cx="86.27" cy="456.41" r="4.3" fill="#B45EEA"/><circle cx="87.99" cy="423.58" r="4.3" fill="#B45EEA"/><circle cx="89.71" cy="419.72" r="4.3" fill="#B45EEA"/><circle cx="91.43" cy="433.88" r="4.3" fill="#B45EEA"/><circle cx="93.15" cy="412" r="4.3" fill="#B45EEA"/><circle cx="94.88" cy="410.71" r="4.3" fill="#B45EEA"/><circle cx="96.6" cy="405.56" r="4.3" fill="#B45EEA"/><circle cx="98.32" cy="402.99" r="4.3" fill="#B45EEA"/><circle cx="100.04" cy="400.41" r="4.3" fill="#B45EEA"/><circle cx="101.76" cy="397.84" r="4.3" fill="#B45EEA"/><circle cx="103.48" cy="396.55" r="4.3" fill="#B45EEA"/><circle cx="105.2" cy="395.26" r="4.3" fill="#B45EEA"/><circle cx="106.93" cy="393.98" r="4.3" fill="#B45EEA"/><circle cx="108.65" cy="392.69" r="4.3" fill="#B45EEA"/><circle cx="110.37" cy="392.69" r="4.3" fill="#B45EEA"/><circle cx="112.09" cy="391.4" r="4.3" fill="#B45EEA"/><circle cx="113.81" cy="391.4" r="4.3" fill="#B45EEA"/><circle cx="115.53" cy="390.76" r="4.3" fill="#B45EEA"/><circle cx="117.25" cy="390.11" r="4.3" fill="#B45EEA"/><circle cx="118.97" cy="387.54" r="4.3" fill="#B45EEA"/><circle cx="121.21" cy="385.22" r="4.3" fill="#B45EEA"/><circle cx="153.75" cy="370.03" r="4.3" fill="#B45EEA"/><circle cx="177.84" cy="363.47" r="4.3" fill="#B45EEA"/><circle cx="201.94" cy="357.16" r="4.3" fill="#B45EEA"/><circle cx="224.32" cy="358.83" r="4.3" fill="#B45EEA"/><circle cx="277.68" cy="359.99" r="4.3" fill="#B45EEA"/>
<path d="M69.92 471.52l5.3 9.2h-10.6z" fill="#52EE7A"/><path d="M70.78 467.66l5.3 9.2h-10.6z" fill="#52EE7A"/><path d="M72.5 454.79l5.3 9.2h-10.6z" fill="#52EE7A"/><path d="M74.22 448.35l5.3 9.2h-10.6z" fill="#52EE7A"/><path d="M75.94 444.49l5.3 9.2h-10.6z" fill="#52EE7A"/><path d="M77.66 440.63l5.3 9.2h-10.6z" fill="#52EE7A"/><path d="M79.38 436.76l5.3 9.2h-10.6z" fill="#52EE7A"/><path d="M81.11 430.33l5.3 9.2h-10.6z" fill="#52EE7A"/><path d="M82.83 427.75l5.3 9.2h-10.6z" fill="#52EE7A"/><path d="M84.55 423.89l5.3 9.2h-10.6z" fill="#52EE7A"/><path d="M86.27 421.32l5.3 9.2h-10.6z" fill="#52EE7A"/><path d="M87.99 418.74l5.3 9.2h-10.6z" fill="#52EE7A"/><path d="M89.71 416.17l5.3 9.2h-10.6z" fill="#52EE7A"/><path d="M91.43 413.59l5.3 9.2h-10.6z" fill="#52EE7A"/><path d="M93.15 408.44l5.3 9.2h-10.6z" fill="#52EE7A"/><path d="M94.88 394.28l5.3 9.2h-10.6z" fill="#52EE7A"/><path d="M96.6 374.97l5.3 9.2h-10.6z" fill="#52EE7A"/><path d="M98.32 383.98l5.3 9.2h-10.6z" fill="#52EE7A"/><path d="M100.04 395.57l5.3 9.2h-10.6z" fill="#52EE7A"/><path d="M101.76 392.99l5.3 9.2h-10.6z" fill="#52EE7A"/><path d="M103.48 386.56l5.3 9.2h-10.6z" fill="#52EE7A"/><path d="M105.2 380.12l5.3 9.2h-10.6z" fill="#52EE7A"/><path d="M106.93 396.86l5.3 9.2h-10.6z" fill="#52EE7A"/><path d="M108.65 385.91l5.3 9.2h-10.6z" fill="#52EE7A"/><path d="M110.37 387.85l5.3 9.2h-10.6z" fill="#52EE7A"/><path d="M112.09 389.13l5.3 9.2h-10.6z" fill="#52EE7A"/><path d="M113.81 391.71l5.3 9.2h-10.6z" fill="#52EE7A"/><path d="M115.53 393.64l5.3 9.2h-10.6z" fill="#52EE7A"/><path d="M117.25 392.99l5.3 9.2h-10.6z" fill="#52EE7A"/><path d="M118.97 389.13l5.3 9.2h-10.6z" fill="#52EE7A"/><path d="M121.73 387.85l5.3 9.2h-10.6z" fill="#52EE7A"/><path d="M153.75 376l5.3 9.2h-10.6z" fill="#52EE7A"/><path d="M177.84 369.05l5.3 9.2h-10.6z" fill="#52EE7A"/><path d="M201.94 364.29l5.3 9.2h-10.6z" fill="#52EE7A"/><path d="M224.32 364.8l5.3 9.2h-10.6z" fill="#52EE7A"/><path d="M277.68 366.73l5.3 9.2h-10.6z" fill="#52EE7A"/>
<path d="M69.92 479.48l5.8 5.9l-5.8 5.9l-5.8 -5.9z" fill="#FF84FA"/><path d="M70.78 476.9l5.8 5.9l-5.8 5.9l-5.8 -5.9z" fill="#FF84FA"/><path d="M72.5 475.61l5.8 5.9l-5.8 5.9l-5.8 -5.9z" fill="#FF84FA"/><path d="M74.22 476.9l5.8 5.9l-5.8 5.9l-5.8 -5.9z" fill="#FF84FA"/><path d="M75.94 477.55l5.8 5.9l-5.8 5.9l-5.8 -5.9z" fill="#FF84FA"/><path d="M77.66 475.61l5.8 5.9l-5.8 5.9l-5.8 -5.9z" fill="#FF84FA"/><path d="M80.24 459.01l5.8 5.9l-5.8 5.9l-5.8 -5.9z" fill="#FF84FA"/><path d="M81.11 474.33l5.8 5.9l-5.8 5.9l-5.8 -5.9z" fill="#FF84FA"/><path d="M83.86 464.16l5.8 5.9l-5.8 5.9l-5.8 -5.9z" fill="#FF84FA"/><path d="M84.55 476.9l5.8 5.9l-5.8 5.9l-5.8 -5.9z" fill="#FF84FA"/><path d="M86.61 482.05l5.8 5.9l-5.8 5.9l-5.8 -5.9z" fill="#FF84FA"/><path d="M87.99 473.04l5.8 5.9l-5.8 5.9l-5.8 -5.9z" fill="#FF84FA"/><path d="M90.57 471.37l5.8 5.9l-5.8 5.9l-5.8 -5.9z" fill="#FF84FA"/><path d="M96.6 469.31l5.8 5.9l-5.8 5.9l-5.8 -5.9z" fill="#FF84FA"/><path d="M103.83 472.4l5.8 5.9l-5.8 5.9l-5.8 -5.9z" fill="#FF84FA"/><path d="M108.99 468.28l5.8 5.9l-5.8 5.9l-5.8 -5.9z" fill="#FF84FA"/><path d="M115.19 472.4l5.8 5.9l-5.8 5.9l-5.8 -5.9z" fill="#FF84FA"/><path d="M121.73 470.34l5.8 5.9l-5.8 5.9l-5.8 -5.9z" fill="#FF84FA"/><path d="M153.75 466.86l5.8 5.9l-5.8 5.9l-5.8 -5.9z" fill="#FF84FA"/><path d="M177.84 457.08l5.8 5.9l-5.8 5.9l-5.8 -5.9z" fill="#FF84FA"/><path d="M201.94 465.32l5.8 5.9l-5.8 5.9l-5.8 -5.9z" fill="#FF84FA"/><path d="M224.32 445.23l5.8 5.9l-5.8 5.9l-5.8 -5.9z" fill="#FF84FA"/><path d="M277.68 476.26l5.8 5.9l-5.8 5.9l-5.8 -5.9z" fill="#FF84FA"/>
<g fill="none" stroke-width="1.25" stroke-opacity="0.55"><path d="M64.3 493.1h12.6" stroke="#979797"/><path d="M66.03 493.1h12.6" stroke="#979797"/><path d="M67.75 493.1h12.6" stroke="#979797"/><path d="M69.47 493.1h12.6" stroke="#979797"/><path d="M71.19 493.1h12.6" stroke="#979797"/><path d="M72.91 493.1h12.6" stroke="#979797"/><path d="M74.63 493.1h12.6" stroke="#979797"/><path d="M76.35 493.1h12.6" stroke="#979797"/><path d="M78.08 493.1h12.6" stroke="#979797"/><path d="M79.8 493.1h12.6" stroke="#979797"/><path d="M81.52 493.1h12.6" stroke="#979797"/><path d="M83.24 493.1h12.6" stroke="#979797"/><path d="M84.96 493.1h12.6" stroke="#979797"/><path d="M86.68 493.1h12.6" stroke="#979797"/><path d="M88.4 493.1h12.6" stroke="#979797"/><path d="M90.12 493.1h12.6" stroke="#979797"/><path d="M91.85 493.1h12.6" stroke="#979797"/><path d="M93.57 493.1h12.6" stroke="#979797"/><path d="M95.29 493.1h12.6" stroke="#979797"/><path d="M97.01 493.1h12.6" stroke="#979797"/><path d="M98.73 493.1h12.6" stroke="#979797"/><path d="M100.45 493.1h12.6" stroke="#979797"/><path d="M102.17 493.1h12.6" stroke="#979797"/><path d="M103.9 493.1h12.6" stroke="#979797"/><path d="M105.62 493.1h12.6" stroke="#979797"/><path d="M107.34 493.1h12.6" stroke="#979797"/><path d="M109.06 493.1h12.6" stroke="#979797"/><path d="M110.78 493.1h12.6" stroke="#979797"/><path d="M112.5 493.1h12.6" stroke="#979797"/><path d="M114.22 493.1h12.6" stroke="#979797"/><path d="M116.12 493.1h12.6" stroke="#979797"/><path d="M117.49 493.1h12.6" stroke="#979797"/><path d="M147.45 493.1h12.6" stroke="#979797"/><path d="M171.54 493.1h12.6" stroke="#979797"/><path d="M195.64 493.1h12.6" stroke="#979797"/><path d="M218.02 493.1h12.6" stroke="#979797"/><path d="M271.38 491.04h12.6" stroke="#979797"/><path d="M63.62 491.81h12.6" stroke="#ECC230"/><path d="M64.48 491.17h12.6" stroke="#ECC230"/><path d="M66.2 490.53h12.6" stroke="#ECC230"/><path d="M67.92 489.88h12.6" stroke="#ECC230"/><path d="M69.64 489.88h12.6" stroke="#ECC230"/><path d="M77.66 488.93v0.62M71.36 488.93h12.6M71.36 489.55h12.6" stroke="#ECC230"/><path d="M79.38 488.93v0.62M73.08 488.93h12.6M73.08 489.55h12.6" stroke="#ECC230"/><path d="M81.11 488.93v0.62M74.81 488.93h12.6M74.81 489.55h12.6" stroke="#ECC230"/><path d="M82.83 488.23v0.72M76.53 488.23h12.6M76.53 488.95h12.6" stroke="#ECC230"/><path d="M84.55 488.23v0.72M78.25 488.23h12.6M78.25 488.95h12.6" stroke="#ECC230"/><path d="M86.27 487.54v0.82M79.97 487.54h12.6M79.97 488.36h12.6" stroke="#ECC230"/><path d="M87.99 487.54v0.82M81.69 487.54h12.6M81.69 488.36h12.6" stroke="#ECC230"/><path d="M89.71 486.84v0.93M83.41 486.84h12.6M83.41 487.77h12.6" stroke="#ECC230"/><path d="M91.43 486.7v0.95M85.13 486.7h12.6M85.13 487.65h12.6" stroke="#ECC230"/><path d="M93.15 486.43v0.98M86.85 486.43h12.6M86.85 487.41h12.6" stroke="#ECC230"/><path d="M94.88 486.15v1.03M88.58 486.15h12.6M88.58 487.18h12.6" stroke="#ECC230"/><path d="M96.6 486.15v1.03M90.3 486.15h12.6M90.3 487.18h12.6" stroke="#ECC230"/><path d="M98.32 486.15v1.03M92.02 486.15h12.6M92.02 487.18h12.6" stroke="#ECC230"/><path d="M100.04 486.15v1.03M93.74 486.15h12.6M93.74 487.18h12.6" stroke="#ECC230"/><path d="M101.76 486.43v0.98M95.46 486.43h12.6M95.46 487.41h12.6" stroke="#ECC230"/><path d="M103.48 486.43v0.98M97.18 486.43h12.6M97.18 487.41h12.6" stroke="#ECC230"/><path d="M105.2 486.43v0.98M98.9 486.43h12.6M98.9 487.41h12.6" stroke="#ECC230"/><path d="M106.93 486.7v0.95M100.63 486.7h12.6M100.63 487.65h12.6" stroke="#ECC230"/><path d="M108.65 486.7v0.95M102.35 486.7h12.6M102.35 487.65h12.6" stroke="#ECC230"/><path d="M110.37 486.7v0.95M104.07 486.7h12.6M104.07 487.65h12.6" stroke="#ECC230"/><path d="M112.09 486.84v0.93M105.79 486.84h12.6M105.79 487.77h12.6" stroke="#ECC230"/><path d="M113.81 486.84v0.93M107.51 486.84h12.6M107.51 487.77h12.6" stroke="#ECC230"/><path d="M115.53 486.99v0.9M109.23 486.99h12.6M109.23 487.89h12.6" stroke="#ECC230"/><path d="M117.25 486.99v0.9M110.95 486.99h12.6M110.95 487.89h12.6" stroke="#ECC230"/><path d="M118.97 487.13v0.88M112.67 487.13h12.6M112.67 488h12.6" stroke="#ECC230"/><path d="M121.56 487.26v0.88M115.26 487.26h12.6M115.26 488.13h12.6" stroke="#ECC230"/><path d="M153.75 484.99v1.29M147.45 484.99h12.6M147.45 486.28h12.6" stroke="#ECC230"/><path d="M177.84 483.83v1.29M171.54 483.83h12.6M171.54 485.12h12.6" stroke="#ECC230"/><path d="M201.94 482.54v1.54M195.64 482.54h12.6M195.64 484.09h12.6" stroke="#ECC230"/><path d="M224.32 483.83v1.29M218.02 483.83h12.6M218.02 485.12h12.6" stroke="#ECC230"/><path d="M277.68 486.79v1.03M271.38 486.79h12.6M271.38 487.82h12.6" stroke="#ECC230"/><path d="M69.92 460.5v3.4M63.62 460.5h12.6M63.62 463.9h12.6" stroke="#B45EEA"/><path d="M70.78 455.07v3.96M64.48 455.07h12.6M64.48 459.04h12.6" stroke="#B45EEA"/><path d="M72.5 449.37v4.56M66.2 449.37h12.6M66.2 453.93h12.6" stroke="#B45EEA"/><path d="M74.22 446.92v4.81M67.92 446.92h12.6M67.92 451.74h12.6" stroke="#B45EEA"/><path d="M75.94 444.21v5.1M69.64 444.21h12.6M69.64 449.3h12.6" stroke="#B45EEA"/><path d="M77.66 438.77v5.66M71.36 438.77h12.6M71.36 444.44h12.6" stroke="#B45EEA"/><path d="M79.38 433.34v6.23M73.08 433.34h12.6M73.08 439.57h12.6" stroke="#B45EEA"/><path d="M81.11 427.23v6.87M74.81 427.23h12.6M74.81 434.1h12.6" stroke="#B45EEA"/><path d="M82.83 425.19v7.08M76.53 425.19h12.6M76.53 432.27h12.6" stroke="#B45EEA"/><path d="M84.55 440.81v5.46M78.25 440.81h12.6M78.25 446.27h12.6" stroke="#B45EEA"/><path d="M86.27 454.39v4.04M79.97 454.39h12.6M79.97 458.43h12.6" stroke="#B45EEA"/><path d="M87.99 419.76v7.65M81.69 419.76h12.6M81.69 427.41h12.6" stroke="#B45EEA"/><path d="M89.71 415.68v8.08M83.41 415.68h12.6M83.41 423.76h12.6" stroke="#B45EEA"/><path d="M91.43 430.63v6.51M85.13 430.63h12.6M85.13 437.14h12.6" stroke="#B45EEA"/><path d="M93.15 407.54v8.91M86.85 407.54h12.6M86.85 416.45h12.6" stroke="#B45EEA"/><path d="M94.88 406.18v9.06M88.58 406.18h12.6M88.58 415.24h12.6" stroke="#B45EEA"/><path d="M96.6 400.75v9.63M90.3 400.75h12.6M90.3 410.38h12.6" stroke="#B45EEA"/><path d="M98.32 398.03v9.91M92.02 398.03h12.6M92.02 407.94h12.6" stroke="#B45EEA"/><path d="M100.04 395.31v10.2M93.74 395.31h12.6M93.74 405.51h12.6" stroke="#B45EEA"/><path d="M101.76 392.6v10.48M95.46 392.6h12.6M95.46 403.08h12.6" stroke="#B45EEA"/><path d="M103.48 391.25v10.61M97.18 391.25h12.6M97.18 401.85h12.6" stroke="#B45EEA"/><path d="M105.2 389.88v10.76M98.9 389.88h12.6M98.9 400.64h12.6" stroke="#B45EEA"/><path d="M106.93 388.52v10.92M100.63 388.52h12.6M100.63 399.43h12.6" stroke="#B45EEA"/><path d="M108.65 387.17v11.05M102.35 387.17h12.6M102.35 398.21h12.6" stroke="#B45EEA"/><path d="M110.37 387.17v11.05M104.07 387.17h12.6M104.07 398.21h12.6" stroke="#B45EEA"/><path d="M112.09 385.81v11.17M105.79 385.81h12.6M105.79 396.99h12.6" stroke="#B45EEA"/><path d="M113.81 385.81v11.17M107.51 385.81h12.6M107.51 396.99h12.6" stroke="#B45EEA"/><path d="M115.53 385.13v11.25M109.23 385.13h12.6M109.23 396.38h12.6" stroke="#B45EEA"/><path d="M117.25 384.45v11.33M110.95 384.45h12.6M110.95 395.78h12.6" stroke="#B45EEA"/><path d="M118.97 381.73v11.61M112.67 381.73h12.6M112.67 393.34h12.6" stroke="#B45EEA"/><path d="M121.21 379.29v11.87M114.91 379.29h12.6M114.91 391.16h12.6" stroke="#B45EEA"/><path d="M153.75 363.85v12.36M147.45 363.85h12.6M147.45 376.21h12.6" stroke="#B45EEA"/><path d="M177.84 357.03v12.87M171.54 357.03h12.6M171.54 369.9h12.6" stroke="#B45EEA"/><path d="M201.94 350.46v13.39M195.64 350.46h12.6M195.64 363.85h12.6" stroke="#B45EEA"/><path d="M224.32 352.01v13.65M218.02 352.01h12.6M218.02 365.65h12.6" stroke="#B45EEA"/><path d="M277.68 353.55v12.87M271.38 353.55h12.6M271.38 366.43h12.6" stroke="#B45EEA"/><path d="M69.92 476.96v1.39M63.62 476.96h12.6M63.62 478.35h12.6" stroke="#52EE7A"/><path d="M70.78 472.93v1.73M64.48 472.93h12.6M64.48 474.65h12.6" stroke="#52EE7A"/><path d="M72.5 459.47v2.88M66.2 459.47h12.6M66.2 462.36h12.6" stroke="#52EE7A"/><path d="M74.22 452.74v3.48M67.92 452.74h12.6M67.92 456.22h12.6" stroke="#52EE7A"/><path d="M75.94 448.71v3.81M69.64 448.71h12.6M69.64 452.52h12.6" stroke="#52EE7A"/><path d="M77.66 444.67v4.17M71.36 444.67h12.6M71.36 448.84h12.6" stroke="#52EE7A"/><path d="M79.38 440.64v4.51M73.08 440.64h12.6M73.08 445.15h12.6" stroke="#52EE7A"/><path d="M81.11 433.91v5.1M74.81 433.91h12.6M74.81 439.01h12.6" stroke="#52EE7A"/><path d="M82.83 431.22v5.33M76.53 431.22h12.6M76.53 436.55h12.6" stroke="#52EE7A"/><path d="M84.55 427.18v5.69M78.25 427.18h12.6M78.25 432.87h12.6" stroke="#52EE7A"/><path d="M86.27 424.5v5.9M79.97 424.5h12.6M79.97 430.39h12.6" stroke="#52EE7A"/><path d="M87.99 421.81v6.13M81.69 421.81h12.6M81.69 427.94h12.6" stroke="#52EE7A"/><path d="M89.71 419.1v6.39M83.41 419.1h12.6M83.41 425.49h12.6" stroke="#52EE7A"/><path d="M91.43 416.43v6.59M85.13 416.43h12.6M85.13 423.02h12.6" stroke="#52EE7A"/><path d="M93.15 411.03v7.08M86.85 411.03h12.6M86.85 418.11h12.6" stroke="#52EE7A"/><path d="M94.88 396.24v8.34M88.58 396.24h12.6M88.58 404.58h12.6" stroke="#52EE7A"/><path d="M96.6 376.06v10.09M90.3 376.06h12.6M90.3 386.15h12.6" stroke="#52EE7A"/><path d="M98.32 385.48v9.27M92.02 385.48h12.6M92.02 394.75h12.6" stroke="#52EE7A"/><path d="M100.04 397.59v8.21M93.74 397.59h12.6M93.74 405.81h12.6" stroke="#52EE7A"/><path d="M101.76 394.9v8.44M95.46 394.9h12.6M95.46 403.35h12.6" stroke="#52EE7A"/><path d="M103.48 388.17v9.04M97.18 388.17h12.6M97.18 397.21h12.6" stroke="#52EE7A"/><path d="M105.2 381.45v9.6M98.9 381.45h12.6M98.9 391.05h12.6" stroke="#52EE7A"/><path d="M106.93 398.93v8.11M100.63 398.93h12.6M100.63 407.04h12.6" stroke="#52EE7A"/><path d="M108.65 387.5v9.09M102.35 387.5h12.6M102.35 396.59h12.6" stroke="#52EE7A"/><path d="M110.37 389.52v8.91M104.07 389.52h12.6M104.07 398.43h12.6" stroke="#52EE7A"/><path d="M112.09 390.86v8.81M105.79 390.86h12.6M105.79 399.67h12.6" stroke="#52EE7A"/><path d="M113.81 393.55v8.57M107.51 393.55h12.6M107.51 402.12h12.6" stroke="#52EE7A"/><path d="M115.53 395.57v8.39M109.23 395.57h12.6M109.23 403.97h12.6" stroke="#52EE7A"/><path d="M117.25 394.9v8.44M110.95 394.9h12.6M110.95 403.35h12.6" stroke="#52EE7A"/><path d="M118.97 390.86v8.81M112.67 390.86h12.6M112.67 399.67h12.6" stroke="#52EE7A"/><path d="M121.73 389.52v8.91M115.43 389.52h12.6M115.43 398.43h12.6" stroke="#52EE7A"/><path d="M153.75 378.78v6.69M147.45 378.78h12.6M147.45 385.48h12.6" stroke="#52EE7A"/><path d="M177.84 371.83v6.69M171.54 371.83h12.6M171.54 378.53h12.6" stroke="#52EE7A"/><path d="M201.94 367.07v6.69M195.64 367.07h12.6M195.64 373.76h12.6" stroke="#52EE7A"/><path d="M224.32 367.59v6.69M218.02 367.59h12.6M218.02 374.28h12.6" stroke="#52EE7A"/><path d="M277.68 369.52v6.69M271.38 369.52h12.6M271.38 376.21h12.6" stroke="#52EE7A"/><path d="M69.92 484.76v1.24M63.62 484.76h12.6M63.62 485.99h12.6" stroke="#FF84FA"/><path d="M70.78 481.98v1.65M64.48 481.98h12.6M64.48 483.63h12.6" stroke="#FF84FA"/><path d="M72.5 480.59v1.85M66.2 480.59h12.6M66.2 482.44h12.6" stroke="#FF84FA"/><path d="M74.22 481.98v1.65M67.92 481.98h12.6M67.92 483.63h12.6" stroke="#FF84FA"/><path d="M75.94 482.67v1.54M69.64 482.67h12.6M69.64 484.22h12.6" stroke="#FF84FA"/><path d="M77.66 480.59v1.85M71.36 480.59h12.6M71.36 482.44h12.6" stroke="#FF84FA"/><path d="M80.24 462.65v4.51M73.94 462.65h12.6M73.94 467.16h12.6" stroke="#FF84FA"/><path d="M81.11 479.2v2.06M74.81 479.2h12.6M74.81 481.26h12.6" stroke="#FF84FA"/><path d="M83.86 468.22v3.68M77.56 468.22h12.6M77.56 471.9h12.6" stroke="#FF84FA"/><path d="M84.55 481.98v1.65M78.25 481.98h12.6M78.25 483.63h12.6" stroke="#FF84FA"/><path d="M86.61 487.54v0.82M80.31 487.54h12.6M80.31 488.36h12.6" stroke="#FF84FA"/><path d="M87.99 477.81v2.27M81.69 477.81h12.6M81.69 480.07h12.6" stroke="#FF84FA"/><path d="M90.57 476v2.52M84.27 476h12.6M84.27 478.53h12.6" stroke="#FF84FA"/><path d="M96.6 473.78v2.86M90.3 473.78h12.6M90.3 476.64h12.6" stroke="#FF84FA"/><path d="M103.83 477.11v2.37M97.53 477.11h12.6M97.53 479.48h12.6" stroke="#FF84FA"/><path d="M108.99 472.66v3.04M102.69 472.66h12.6M102.69 475.7h12.6" stroke="#FF84FA"/><path d="M115.19 477.11v2.37M108.89 477.11h12.6M108.89 479.48h12.6" stroke="#FF84FA"/><path d="M121.73 474.88v2.7M115.43 474.88h12.6M115.43 477.59h12.6" stroke="#FF84FA"/><path d="M153.75 470.19v5.15M147.45 470.19h12.6M147.45 475.33h12.6" stroke="#FF84FA"/><path d="M177.84 460.14v5.66M171.54 460.14h12.6M171.54 465.81h12.6" stroke="#FF84FA"/><path d="M201.94 468.64v5.15M195.64 468.64h12.6M195.64 473.79h12.6" stroke="#FF84FA"/><path d="M224.32 448.04v6.18M218.02 448.04h12.6M218.02 454.22h12.6" stroke="#FF84FA"/><path d="M277.68 480.23v3.86M271.38 480.23h12.6M271.38 484.09h12.6" stroke="#FF84FA"/></g>
</g>
<path d="M224.72 305.05V493.6" stroke="#111" stroke-width="2" stroke-dasharray="2.7 6.56" fill="none"/>
</g>
<g>
<path d="M430.31 493.1v-6M447.53 493.1v-6M464.74 493.1v-6M481.95 493.1v-6M499.17 493.1v-12.2M516.38 493.1v-6M533.59 493.1v-6M550.81 493.1v-6M568.02 493.1v-6M585.23 493.1v-12.2M602.45 493.1v-6M619.66 493.1v-6M636.87 493.1v-6M654.09 493.1v-6M413.1 480.23h6M413.1 467.35h6M413.1 454.48h6M413.1 441.61h6M413.1 428.73h12.2M413.1 415.86h6M413.1 402.99h6M413.1 390.11h6M413.1 377.24h6M413.1 364.37h12.2M413.1 351.49h6M413.1 338.62h6M413.1 325.75h6M413.1 312.87h6" stroke="#141414" stroke-width="1.45" fill="none"/>
<rect x="413.1" y="300" width="258.2" height="193.1" fill="none" stroke="#141414" stroke-width="1.5"/>
<text transform="translate(413.1,520.6) scale(0.93,1)" font-size="17.8" text-anchor="middle">0</text>
<text transform="translate(499.17,520.6) scale(0.93,1)" font-size="17.8" text-anchor="middle">50</text>
<text transform="translate(584.53,520.6) scale(0.88,1)" font-size="17.8" text-anchor="middle">100</text>
<text transform="translate(670.6,520.6) scale(0.88,1)" font-size="17.8" text-anchor="middle">150</text>
<text transform="translate(398.8,497.25) scale(0.93,1)" font-size="17.8" text-anchor="end">0</text>
<text transform="translate(398.8,432.88) scale(0.93,1)" font-size="17.8" text-anchor="end">50</text>
<text transform="translate(398.8,368.52) scale(0.88,1)" font-size="17.8" text-anchor="end">100</text>
<text transform="translate(398.8,304.15) scale(0.88,1)" font-size="17.8" text-anchor="end">150</text>
<text transform="translate(542.4,542) scale(0.93,1)" font-size="18" text-anchor="middle">Time (days)</text>
<text transform="translate(358.1,397.15) rotate(-90) scale(0.885,1)" font-size="18.4" text-anchor="middle">AG<tspan font-size="12.5" dy="5">i</tspan><tspan dy="-5"> (%)</tspan></text>
<text transform="translate(522.21,296.8) scale(0.89,1)" font-size="18" text-anchor="start">B10A2</text>
<rect x="429.95" y="305.25" width="8.1" height="8.1" fill="#ECC230"/>
<text transform="translate(459,314.8) scale(0.95,1)" font-size="14.3" text-anchor="start">Si</text>
<circle cx="495.2" cy="309.3" r="4.3" fill="#B45EEA"/>
<text transform="translate(520.4,314.8) scale(0.95,1)" font-size="14.3" text-anchor="start">B</text>
<path d="M552.3 303.17l5.3 9.2h-10.6z" fill="#52EE7A"/>
<text transform="translate(577.1,314.8) scale(0.95,1)" font-size="14.3" text-anchor="start">Na</text>
<path d="M434 337.73l-5.3 -9.2h10.6z" fill="#979797"/>
<text transform="translate(459,337.1) scale(0.95,1)" font-size="14.3" text-anchor="start">Al</text>
<path d="M495.2 325.7l5.8 5.9l-5.8 5.9l-5.8 -5.9z" fill="#FF84FA"/>
<text transform="translate(520.4,337.1) scale(0.95,1)" font-size="14.3" text-anchor="start">Ca</text>
<clipPath id="c3"><rect x="412.35" y="299.25" width="259.7" height="194.6"/></clipPath>
<g clip-path="url(#c3)">
<path d="M413.62 499.23l-5.3 -9.2h10.6z" fill="#979797"/><path d="M415.34 499.23l-5.3 -9.2h10.6z" fill="#979797"/><path d="M417.06 499.23l-5.3 -9.2h10.6z" fill="#979797"/><path d="M418.78 499.23l-5.3 -9.2h10.6z" fill="#979797"/><path d="M420.5 499.23l-5.3 -9.2h10.6z" fill="#979797"/><path d="M422.22 499.23l-5.3 -9.2h10.6z" fill="#979797"/><path d="M423.94 499.23l-5.3 -9.2h10.6z" fill="#979797"/><path d="M425.67 499.23l-5.3 -9.2h10.6z" fill="#979797"/><path d="M427.39 499.23l-5.3 -9.2h10.6z" fill="#979797"/><path d="M429.11 499.23l-5.3 -9.2h10.6z" fill="#979797"/><path d="M430.83 499.23l-5.3 -9.2h10.6z" fill="#979797"/><path d="M432.55 499.23l-5.3 -9.2h10.6z" fill="#979797"/><path d="M434.27 499.23l-5.3 -9.2h10.6z" fill="#979797"/><path d="M435.99 499.23l-5.3 -9.2h10.6z" fill="#979797"/><path d="M437.72 499.23l-5.3 -9.2h10.6z" fill="#979797"/><path d="M439.44 499.23l-5.3 -9.2h10.6z" fill="#979797"/><path d="M441.16 499.23l-5.3 -9.2h10.6z" fill="#979797"/><path d="M442.88 499.23l-5.3 -9.2h10.6z" fill="#979797"/><path d="M444.6 499.23l-5.3 -9.2h10.6z" fill="#979797"/><path d="M446.32 499.23l-5.3 -9.2h10.6z" fill="#979797"/><path d="M448.04 499.23l-5.3 -9.2h10.6z" fill="#979797"/><path d="M449.76 499.23l-5.3 -9.2h10.6z" fill="#979797"/><path d="M451.49 499.23l-5.3 -9.2h10.6z" fill="#979797"/><path d="M453.21 499.23l-5.3 -9.2h10.6z" fill="#979797"/><path d="M454.93 499.23l-5.3 -9.2h10.6z" fill="#979797"/><path d="M456.65 499.23l-5.3 -9.2h10.6z" fill="#979797"/><path d="M458.37 499.23l-5.3 -9.2h10.6z" fill="#979797"/><path d="M460.09 499.23l-5.3 -9.2h10.6z" fill="#979797"/><path d="M461.81 499.23l-5.3 -9.2h10.6z" fill="#979797"/><path d="M463.54 499.23l-5.3 -9.2h10.6z" fill="#979797"/><path d="M465.26 499.23l-5.3 -9.2h10.6z" fill="#979797"/><path d="M466.81 499.23l-5.3 -9.2h10.6z" fill="#979797"/><path d="M497.45 499.23l-5.3 -9.2h10.6z" fill="#979797"/><path d="M521.54 499.23l-5.3 -9.2h10.6z" fill="#979797"/><path d="M545.64 499.23l-5.3 -9.2h10.6z" fill="#979797"/><path d="M568.02 499.23l-5.3 -9.2h10.6z" fill="#979797"/><path d="M619.66 499.23l-5.3 -9.2h10.6z" fill="#979797"/>
<rect x="409.48" y="487.76" width="8.1" height="8.1" fill="#ECC230"/><rect x="409.57" y="487.12" width="8.1" height="8.1" fill="#ECC230"/><rect x="411.29" y="486.48" width="8.1" height="8.1" fill="#ECC230"/><rect x="413.01" y="485.83" width="8.1" height="8.1" fill="#ECC230"/><rect x="414.73" y="485.19" width="8.1" height="8.1" fill="#ECC230"/><rect x="416.45" y="484.93" width="8.1" height="8.1" fill="#ECC230"/><rect x="418.17" y="484.54" width="8.1" height="8.1" fill="#ECC230"/><rect x="419.89" y="484.54" width="8.1" height="8.1" fill="#ECC230"/><rect x="421.62" y="484.29" width="8.1" height="8.1" fill="#ECC230"/><rect x="423.34" y="483.9" width="8.1" height="8.1" fill="#ECC230"/><rect x="425.06" y="483.9" width="8.1" height="8.1" fill="#ECC230"/><rect x="426.78" y="483.9" width="8.1" height="8.1" fill="#ECC230"/><rect x="428.5" y="483.64" width="8.1" height="8.1" fill="#ECC230"/><rect x="430.22" y="483.51" width="8.1" height="8.1" fill="#ECC230"/><rect x="431.94" y="483.26" width="8.1" height="8.1" fill="#ECC230"/><rect x="433.67" y="483.26" width="8.1" height="8.1" fill="#ECC230"/><rect x="435.39" y="483.26" width="8.1" height="8.1" fill="#ECC230"/><rect x="437.11" y="483.51" width="8.1" height="8.1" fill="#ECC230"/><rect x="438.83" y="483.26" width="8.1" height="8.1" fill="#ECC230"/><rect x="440.55" y="483" width="8.1" height="8.1" fill="#ECC230"/><rect x="442.27" y="482.61" width="8.1" height="8.1" fill="#ECC230"/><rect x="443.99" y="482.61" width="8.1" height="8.1" fill="#ECC230"/><rect x="445.71" y="482.61" width="8.1" height="8.1" fill="#ECC230"/><rect x="447.44" y="482.87" width="8.1" height="8.1" fill="#ECC230"/><rect x="449.16" y="483.26" width="8.1" height="8.1" fill="#ECC230"/><rect x="450.88" y="483.51" width="8.1" height="8.1" fill="#ECC230"/><rect x="452.6" y="483.9" width="8.1" height="8.1" fill="#ECC230"/><rect x="454.32" y="484.54" width="8.1" height="8.1" fill="#ECC230"/><rect x="456.04" y="485.19" width="8.1" height="8.1" fill="#ECC230"/><rect x="457.76" y="485.83" width="8.1" height="8.1" fill="#ECC230"/><rect x="459.49" y="486.48" width="8.1" height="8.1" fill="#ECC230"/><rect x="461.21" y="487.12" width="8.1" height="8.1" fill="#ECC230"/><rect x="493.4" y="481.2" width="8.1" height="8.1" fill="#ECC230"/><rect x="517.49" y="478.75" width="8.1" height="8.1" fill="#ECC230"/><rect x="541.59" y="479.52" width="8.1" height="8.1" fill="#ECC230"/><rect x="563.97" y="478.37" width="8.1" height="8.1" fill="#ECC230"/><rect x="615.61" y="485.83" width="8.1" height="8.1" fill="#ECC230"/>
<circle cx="413.79" cy="480.2" r="4.3" fill="#B45EEA"/><circle cx="415.17" cy="469.68" r="4.3" fill="#B45EEA"/><circle cx="416.89" cy="449.56" r="4.3" fill="#B45EEA"/><circle cx="418.61" cy="423.66" r="4.3" fill="#B45EEA"/><circle cx="419.99" cy="412.81" r="4.3" fill="#B45EEA"/><circle cx="421.02" cy="406.64" r="4.3" fill="#B45EEA"/><circle cx="422.22" cy="401.54" r="4.3" fill="#B45EEA"/><circle cx="423.43" cy="398.66" r="4.3" fill="#B45EEA"/><circle cx="424.63" cy="394.31" r="4.3" fill="#B45EEA"/><circle cx="425.84" cy="391.5" r="4.3" fill="#B45EEA"/><circle cx="427.04" cy="388.84" r="4.3" fill="#B45EEA"/><circle cx="429.11" cy="384.19" r="4.3" fill="#B45EEA"/><circle cx="430.83" cy="381.09" r="4.3" fill="#B45EEA"/><circle cx="432.55" cy="378.24" r="4.3" fill="#B45EEA"/><circle cx="434.27" cy="375.81" r="4.3" fill="#B45EEA"/><circle cx="435.99" cy="372.54" r="4.3" fill="#B45EEA"/><circle cx="437.72" cy="371.09" r="4.3" fill="#B45EEA"/><circle cx="439.44" cy="370.37" r="4.3" fill="#B45EEA"/><circle cx="441.16" cy="367.43" r="4.3" fill="#B45EEA"/><circle cx="442.88" cy="366.47" r="4.3" fill="#B45EEA"/><circle cx="444.6" cy="365.28" r="4.3" fill="#B45EEA"/><circle cx="446.32" cy="363.21" r="4.3" fill="#B45EEA"/><circle cx="448.04" cy="362.94" r="4.3" fill="#B45EEA"/><circle cx="449.76" cy="362.96" r="4.3" fill="#B45EEA"/><circle cx="451.49" cy="360.94" r="4.3" fill="#B45EEA"/><circle cx="453.21" cy="360.44" r="4.3" fill="#B45EEA"/><circle cx="454.93" cy="360.21" r="4.3" fill="#B45EEA"/><circle cx="456.65" cy="359.38" r="4.3" fill="#B45EEA"/><circle cx="458.37" cy="358.54" r="4.3" fill="#B45EEA"/><circle cx="460.09" cy="357.36" r="4.3" fill="#B45EEA"/><circle cx="461.81" cy="356.6" r="4.3" fill="#B45EEA"/><circle cx="463.54" cy="355.38" r="4.3" fill="#B45EEA"/><circle cx="465.26" cy="353.51" r="4.3" fill="#B45EEA"/><circle cx="497.45" cy="351.75" r="4.3" fill="#B45EEA"/><circle cx="521.54" cy="344.54" r="4.3" fill="#B45EEA"/><circle cx="545.64" cy="347.12" r="4.3" fill="#B45EEA"/><circle cx="568.02" cy="346.86" r="4.3" fill="#B45EEA"/><circle cx="619.66" cy="347.63" r="4.3" fill="#B45EEA"/>
<path d="M413.79 477.43l5.3 9.2h-10.6z" fill="#52EE7A"/><path d="M415.17 465.82l5.3 9.2h-10.6z" fill="#52EE7A"/><path d="M416.37 451.53l5.3 9.2h-10.6z" fill="#52EE7A"/><path d="M417.4 435.67l5.3 9.2h-10.6z" fill="#52EE7A"/><path d="M418.61 423.72l5.3 9.2h-10.6z" fill="#52EE7A"/><path d="M419.99 421.48l5.3 9.2h-10.6z" fill="#52EE7A"/><path d="M421.02 416.94l5.3 9.2h-10.6z" fill="#52EE7A"/><path d="M422.22 414.75l5.3 9.2h-10.6z" fill="#52EE7A"/><path d="M423.43 411.82l5.3 9.2h-10.6z" fill="#52EE7A"/><path d="M424.63 410.82l5.3 9.2h-10.6z" fill="#52EE7A"/><path d="M425.84 405.19l5.3 9.2h-10.6z" fill="#52EE7A"/><path d="M427.04 400.95l5.3 9.2h-10.6z" fill="#52EE7A"/><path d="M429.11 397.14l5.3 9.2h-10.6z" fill="#52EE7A"/><path d="M430.83 393.42l5.3 9.2h-10.6z" fill="#52EE7A"/><path d="M432.55 391.75l5.3 9.2h-10.6z" fill="#52EE7A"/><path d="M434.27 388.59l5.3 9.2h-10.6z" fill="#52EE7A"/><path d="M435.99 385.54l5.3 9.2h-10.6z" fill="#52EE7A"/><path d="M437.72 383.64l5.3 9.2h-10.6z" fill="#52EE7A"/><path d="M439.44 381.81l5.3 9.2h-10.6z" fill="#52EE7A"/><path d="M441.16 378.41l5.3 9.2h-10.6z" fill="#52EE7A"/><path d="M442.88 378.06l5.3 9.2h-10.6z" fill="#52EE7A"/><path d="M444.6 376.76l5.3 9.2h-10.6z" fill="#52EE7A"/><path d="M446.32 374.57l5.3 9.2h-10.6z" fill="#52EE7A"/><path d="M448.04 373.29l5.3 9.2h-10.6z" fill="#52EE7A"/><path d="M449.76 371.68l5.3 9.2h-10.6z" fill="#52EE7A"/><path d="M451.49 370.58l5.3 9.2h-10.6z" fill="#52EE7A"/><path d="M453.21 367.98l5.3 9.2h-10.6z" fill="#52EE7A"/><path d="M454.93 368.33l5.3 9.2h-10.6z" fill="#52EE7A"/><path d="M456.65 367.58l5.3 9.2h-10.6z" fill="#52EE7A"/><path d="M458.37 366.62l5.3 9.2h-10.6z" fill="#52EE7A"/><path d="M460.09 365l5.3 9.2h-10.6z" fill="#52EE7A"/><path d="M461.81 365.38l5.3 9.2h-10.6z" fill="#52EE7A"/><path d="M463.54 364.58l5.3 9.2h-10.6z" fill="#52EE7A"/><path d="M465.26 361.53l5.3 9.2h-10.6z" fill="#52EE7A"/><path d="M497.45 357.34l5.3 9.2h-10.6z" fill="#52EE7A"/><path d="M521.54 351.54l5.3 9.2h-10.6z" fill="#52EE7A"/><path d="M545.64 353.86l5.3 9.2h-10.6z" fill="#52EE7A"/><path d="M568.02 353.22l5.3 9.2h-10.6z" fill="#52EE7A"/><path d="M619.66 349.23l5.3 9.2h-10.6z" fill="#52EE7A"/>
<path d="M413.96 476.9l5.8 5.9l-5.8 5.9l-5.8 -5.9z" fill="#FF84FA"/><path d="M414.82 471.75l5.8 5.9l-5.8 5.9l-5.8 -5.9z" fill="#FF84FA"/><path d="M416.54 474.71l5.8 5.9l-5.8 5.9l-5.8 -5.9z" fill="#FF84FA"/><path d="M418.26 464.03l5.8 5.9l-5.8 5.9l-5.8 -5.9z" fill="#FF84FA"/><path d="M419.99 470.46l5.8 5.9l-5.8 5.9l-5.8 -5.9z" fill="#FF84FA"/><path d="M421.71 467.63l5.8 5.9l-5.8 5.9l-5.8 -5.9z" fill="#FF84FA"/><path d="M423.43 471.75l5.8 5.9l-5.8 5.9l-5.8 -5.9z" fill="#FF84FA"/><path d="M425.15 453.47l5.8 5.9l-5.8 5.9l-5.8 -5.9z" fill="#FF84FA"/><path d="M426.01 469.95l5.8 5.9l-5.8 5.9l-5.8 -5.9z" fill="#FF84FA"/><path d="M426.87 475.87l5.8 5.9l-5.8 5.9l-5.8 -5.9z" fill="#FF84FA"/><path d="M428.59 474.33l5.8 5.9l-5.8 5.9l-5.8 -5.9z" fill="#FF84FA"/><path d="M430.31 460.55l5.8 5.9l-5.8 5.9l-5.8 -5.9z" fill="#FF84FA"/><path d="M432.03 478.32l5.8 5.9l-5.8 5.9l-5.8 -5.9z" fill="#FF84FA"/><path d="M433.76 455.02l5.8 5.9l-5.8 5.9l-5.8 -5.9z" fill="#FF84FA"/><path d="M435.48 445.75l5.8 5.9l-5.8 5.9l-5.8 -5.9z" fill="#FF84FA"/><path d="M437.2 452.18l5.8 5.9l-5.8 5.9l-5.8 -5.9z" fill="#FF84FA"/><path d="M438.06 439.18l5.8 5.9l-5.8 5.9l-5.8 -5.9z" fill="#FF84FA"/><path d="M440.64 462.35l5.8 5.9l-5.8 5.9l-5.8 -5.9z" fill="#FF84FA"/><path d="M442.36 435.71l5.8 5.9l-5.8 5.9l-5.8 -5.9z" fill="#FF84FA"/><path d="M444.08 438.28l5.8 5.9l-5.8 5.9l-5.8 -5.9z" fill="#FF84FA"/><path d="M445.81 448.58l5.8 5.9l-5.8 5.9l-5.8 -5.9z" fill="#FF84FA"/><path d="M447.53 456.3l5.8 5.9l-5.8 5.9l-5.8 -5.9z" fill="#FF84FA"/><path d="M449.25 448.71l5.8 5.9l-5.8 5.9l-5.8 -5.9z" fill="#FF84FA"/><path d="M450.11 465.32l5.8 5.9l-5.8 5.9l-5.8 -5.9z" fill="#FF84FA"/><path d="M450.97 444.72l5.8 5.9l-5.8 5.9l-5.8 -5.9z" fill="#FF84FA"/><path d="M452.69 439.83l5.8 5.9l-5.8 5.9l-5.8 -5.9z" fill="#FF84FA"/><path d="M454.41 442.14l5.8 5.9l-5.8 5.9l-5.8 -5.9z" fill="#FF84FA"/><path d="M455.44 451.15l5.8 5.9l-5.8 5.9l-5.8 -5.9z" fill="#FF84FA"/><path d="M457.85 440.86l5.8 5.9l-5.8 5.9l-5.8 -5.9z" fill="#FF84FA"/><path d="M458.89 440.98l5.8 5.9l-5.8 5.9l-5.8 -5.9z" fill="#FF84FA"/><path d="M461.3 441.5l5.8 5.9l-5.8 5.9l-5.8 -5.9z" fill="#FF84FA"/><path d="M463.02 442.14l5.8 5.9l-5.8 5.9l-5.8 -5.9z" fill="#FF84FA"/><path d="M464.74 440.98l5.8 5.9l-5.8 5.9l-5.8 -5.9z" fill="#FF84FA"/><path d="M466.46 442.14l5.8 5.9l-5.8 5.9l-5.8 -5.9z" fill="#FF84FA"/><path d="M497.45 433l5.8 5.9l-5.8 5.9l-5.8 -5.9z" fill="#FF84FA"/><path d="M521.54 425.54l5.8 5.9l-5.8 5.9l-5.8 -5.9z" fill="#FF84FA"/><path d="M545.64 430.17l5.8 5.9l-5.8 5.9l-5.8 -5.9z" fill="#FF84FA"/><path d="M568.02 430.17l5.8 5.9l-5.8 5.9l-5.8 -5.9z" fill="#FF84FA"/><path d="M619.66 469.18l5.8 5.9l-5.8 5.9l-5.8 -5.9z" fill="#FF84FA"/>
<g fill="none" stroke-width="1.25" stroke-opacity="0.55"><path d="M407.32 493.1h12.6" stroke="#979797"/><path d="M409.04 493.1h12.6" stroke="#979797"/><path d="M410.76 493.1h12.6" stroke="#979797"/><path d="M412.48 493.1h12.6" stroke="#979797"/><path d="M414.2 493.1h12.6" stroke="#979797"/><path d="M415.92 493.1h12.6" stroke="#979797"/><path d="M417.64 493.1h12.6" stroke="#979797"/><path d="M419.37 493.1h12.6" stroke="#979797"/><path d="M421.09 493.1h12.6" stroke="#979797"/><path d="M422.81 493.1h12.6" stroke="#979797"/><path d="M424.53 493.1h12.6" stroke="#979797"/><path d="M426.25 493.1h12.6" stroke="#979797"/><path d="M427.97 493.1h12.6" stroke="#979797"/><path d="M429.69 493.1h12.6" stroke="#979797"/><path d="M431.42 493.1h12.6" stroke="#979797"/><path d="M433.14 493.1h12.6" stroke="#979797"/><path d="M434.86 493.1h12.6" stroke="#979797"/><path d="M436.58 493.1h12.6" stroke="#979797"/><path d="M438.3 493.1h12.6" stroke="#979797"/><path d="M440.02 493.1h12.6" stroke="#979797"/><path d="M441.74 493.1h12.6" stroke="#979797"/><path d="M443.46 493.1h12.6" stroke="#979797"/><path d="M445.19 493.1h12.6" stroke="#979797"/><path d="M446.91 493.1h12.6" stroke="#979797"/><path d="M448.63 493.1h12.6" stroke="#979797"/><path d="M450.35 493.1h12.6" stroke="#979797"/><path d="M452.07 493.1h12.6" stroke="#979797"/><path d="M453.79 493.1h12.6" stroke="#979797"/><path d="M455.51 493.1h12.6" stroke="#979797"/><path d="M457.24 493.1h12.6" stroke="#979797"/><path d="M458.96 493.1h12.6" stroke="#979797"/><path d="M460.51 493.1h12.6" stroke="#979797"/><path d="M491.15 493.1h12.6" stroke="#979797"/><path d="M515.24 493.1h12.6" stroke="#979797"/><path d="M539.34 493.1h12.6" stroke="#979797"/><path d="M561.72 493.1h12.6" stroke="#979797"/><path d="M613.36 493.1h12.6" stroke="#979797"/><path d="M407.23 491.81h12.6" stroke="#ECC230"/><path d="M407.32 491.17h12.6" stroke="#ECC230"/><path d="M409.04 490.53h12.6" stroke="#ECC230"/><path d="M410.76 489.88h12.6" stroke="#ECC230"/><path d="M418.78 488.93v0.62M412.48 488.93h12.6M412.48 489.55h12.6" stroke="#ECC230"/><path d="M420.5 488.65v0.67M414.2 488.65h12.6M414.2 489.32h12.6" stroke="#ECC230"/><path d="M422.22 488.23v0.72M415.92 488.23h12.6M415.92 488.95h12.6" stroke="#ECC230"/><path d="M423.94 488.23v0.72M417.64 488.23h12.6M417.64 488.95h12.6" stroke="#ECC230"/><path d="M425.67 487.95v0.77M419.37 487.95h12.6M419.37 488.72h12.6" stroke="#ECC230"/><path d="M427.39 487.54v0.82M421.09 487.54h12.6M421.09 488.36h12.6" stroke="#ECC230"/><path d="M429.11 487.54v0.82M422.81 487.54h12.6M422.81 488.36h12.6" stroke="#ECC230"/><path d="M430.83 487.54v0.82M424.53 487.54h12.6M424.53 488.36h12.6" stroke="#ECC230"/><path d="M432.55 487.26v0.88M426.25 487.26h12.6M426.25 488.13h12.6" stroke="#ECC230"/><path d="M434.27 487.13v0.88M427.97 487.13h12.6M427.97 488h12.6" stroke="#ECC230"/><path d="M435.99 486.84v0.93M429.69 486.84h12.6M429.69 487.77h12.6" stroke="#ECC230"/><path d="M437.72 486.84v0.93M431.42 486.84h12.6M431.42 487.77h12.6" stroke="#ECC230"/><path d="M439.44 486.84v0.93M433.14 486.84h12.6M433.14 487.77h12.6" stroke="#ECC230"/><path d="M441.16 487.13v0.88M434.86 487.13h12.6M434.86 488h12.6" stroke="#ECC230"/><path d="M442.88 486.84v0.93M436.58 486.84h12.6M436.58 487.77h12.6" stroke="#ECC230"/><path d="M444.6 486.56v0.98M438.3 486.56h12.6M438.3 487.54h12.6" stroke="#ECC230"/><path d="M446.32 486.15v1.03M440.02 486.15h12.6M440.02 487.18h12.6" stroke="#ECC230"/><path d="M448.04 486.15v1.03M441.74 486.15h12.6M441.74 487.18h12.6" stroke="#ECC230"/><path d="M449.76 486.15v1.03M443.46 486.15h12.6M443.46 487.18h12.6" stroke="#ECC230"/><path d="M451.49 486.43v0.98M445.19 486.43h12.6M445.19 487.41h12.6" stroke="#ECC230"/><path d="M453.21 486.84v0.93M446.91 486.84h12.6M446.91 487.77h12.6" stroke="#ECC230"/><path d="M454.93 487.13v0.88M448.63 487.13h12.6M448.63 488h12.6" stroke="#ECC230"/><path d="M456.65 487.54v0.82M450.35 487.54h12.6M450.35 488.36h12.6" stroke="#ECC230"/><path d="M458.37 488.23v0.72M452.07 488.23h12.6M452.07 488.95h12.6" stroke="#ECC230"/><path d="M460.09 488.93v0.62M453.79 488.93h12.6M453.79 489.55h12.6" stroke="#ECC230"/><path d="M455.51 489.88h12.6" stroke="#ECC230"/><path d="M457.24 490.53h12.6" stroke="#ECC230"/><path d="M458.96 491.17h12.6" stroke="#ECC230"/><path d="M497.45 484.6v1.29M491.15 484.6h12.6M491.15 485.89h12.6" stroke="#ECC230"/><path d="M521.54 482.03v1.54M515.24 482.03h12.6M515.24 483.57h12.6" stroke="#ECC230"/><path d="M545.64 482.8v1.54M539.34 482.8h12.6M539.34 484.35h12.6" stroke="#ECC230"/><path d="M568.02 481.64v1.54M561.72 481.64h12.6M561.72 483.19h12.6" stroke="#ECC230"/><path d="M619.66 489.5v0.77M613.36 489.5h12.6M613.36 490.27h12.6" stroke="#ECC230"/><path d="M413.79 479.56v1.29M407.49 479.56h12.6M407.49 480.84h12.6" stroke="#B45EEA"/><path d="M415.17 468.51v2.34M408.87 468.51h12.6M408.87 470.85h12.6" stroke="#B45EEA"/><path d="M416.89 447.39v4.35M410.59 447.39h12.6M410.59 451.74h12.6" stroke="#B45EEA"/><path d="M418.61 420.19v6.95M412.31 420.19h12.6M412.31 427.14h12.6" stroke="#B45EEA"/><path d="M419.99 408.79v8.03M413.69 408.79h12.6M413.69 416.83h12.6" stroke="#B45EEA"/><path d="M421.02 402.32v8.65M414.72 402.32h12.6M414.72 410.97h12.6" stroke="#B45EEA"/><path d="M422.22 396.96v9.17M415.92 396.96h12.6M415.92 406.13h12.6" stroke="#B45EEA"/><path d="M423.43 393.94v9.45M417.13 393.94h12.6M417.13 403.39h12.6" stroke="#B45EEA"/><path d="M424.63 389.37v9.89M418.33 389.37h12.6M418.33 399.25h12.6" stroke="#B45EEA"/><path d="M425.84 386.42v10.17M419.54 386.42h12.6M419.54 396.59h12.6" stroke="#B45EEA"/><path d="M427.04 383.63v10.43M420.74 383.63h12.6M420.74 394.05h12.6" stroke="#B45EEA"/><path d="M429.11 378.75v10.89M422.81 378.75h12.6M422.81 389.64h12.6" stroke="#B45EEA"/><path d="M430.83 375.49v11.2M424.53 375.49h12.6M424.53 386.69h12.6" stroke="#B45EEA"/><path d="M432.55 372.5v11.48M426.25 372.5h12.6M426.25 383.99h12.6" stroke="#B45EEA"/><path d="M434.27 369.94v11.74M427.97 369.94h12.6M427.97 381.68h12.6" stroke="#B45EEA"/><path d="M435.99 366.52v12.05M429.69 366.52h12.6M429.69 378.57h12.6" stroke="#B45EEA"/><path d="M437.72 364.98v12.2M431.42 364.98h12.6M431.42 377.19h12.6" stroke="#B45EEA"/><path d="M439.44 364.23v12.28M433.14 364.23h12.6M433.14 376.51h12.6" stroke="#B45EEA"/><path d="M441.16 361.15v12.56M434.86 361.15h12.6M434.86 373.71h12.6" stroke="#B45EEA"/><path d="M442.88 360.13v12.67M436.58 360.13h12.6M436.58 372.8h12.6" stroke="#B45EEA"/><path d="M444.6 358.9v12.77M438.3 358.9h12.6M438.3 371.67h12.6" stroke="#B45EEA"/><path d="M446.32 356.71v13M440.02 356.71h12.6M440.02 369.71h12.6" stroke="#B45EEA"/><path d="M448.04 356.42v13.03M441.74 356.42h12.6M441.74 369.45h12.6" stroke="#B45EEA"/><path d="M449.76 356.46v13M443.46 356.46h12.6M443.46 369.46h12.6" stroke="#B45EEA"/><path d="M451.49 354.34v13.21M445.19 354.34h12.6M445.19 367.55h12.6" stroke="#B45EEA"/><path d="M453.21 353.81v13.26M446.91 353.81h12.6M446.91 367.07h12.6" stroke="#B45EEA"/><path d="M454.93 353.57v13.29M448.63 353.57h12.6M448.63 366.85h12.6" stroke="#B45EEA"/><path d="M456.65 352.7v13.36M450.35 352.7h12.6M450.35 366.07h12.6" stroke="#B45EEA"/><path d="M458.37 351.8v13.47M452.07 351.8h12.6M452.07 365.27h12.6" stroke="#B45EEA"/><path d="M460.09 350.58v13.57M453.79 350.58h12.6M453.79 364.15h12.6" stroke="#B45EEA"/><path d="M461.81 349.78v13.65M455.51 349.78h12.6M455.51 363.43h12.6" stroke="#B45EEA"/><path d="M463.54 348.49v13.77M457.24 348.49h12.6M457.24 362.27h12.6" stroke="#B45EEA"/><path d="M465.26 346.54v13.95M458.96 346.54h12.6M458.96 360.49h12.6" stroke="#B45EEA"/><path d="M497.45 344.8v13.9M491.15 344.8h12.6M491.15 358.7h12.6" stroke="#B45EEA"/><path d="M521.54 336.95v15.19M515.24 336.95h12.6M515.24 352.14h12.6" stroke="#B45EEA"/><path d="M545.64 340.04v14.16M539.34 340.04h12.6M539.34 354.2h12.6" stroke="#B45EEA"/><path d="M568.02 339.52v14.68M561.72 339.52h12.6M561.72 354.2h12.6" stroke="#B45EEA"/><path d="M619.66 340.55v14.16M613.36 340.55h12.6M613.36 354.71h12.6" stroke="#B45EEA"/><path d="M413.79 483.17v0.77M407.49 483.17h12.6M407.49 483.95h12.6" stroke="#52EE7A"/><path d="M415.17 471.1v1.7M408.87 471.1h12.6M408.87 472.8h12.6" stroke="#52EE7A"/><path d="M416.37 456.24v2.83M410.07 456.24h12.6M410.07 459.08h12.6" stroke="#52EE7A"/><path d="M417.4 439.75v4.09M411.1 439.75h12.6M411.1 443.85h12.6" stroke="#52EE7A"/><path d="M418.61 427.32v5.07M412.31 427.32h12.6M412.31 432.39h12.6" stroke="#52EE7A"/><path d="M419.99 425v5.23M413.69 425h12.6M413.69 430.23h12.6" stroke="#52EE7A"/><path d="M421.02 420.26v5.61M414.72 420.26h12.6M414.72 425.88h12.6" stroke="#52EE7A"/><path d="M422.22 418v5.77M415.92 418h12.6M415.92 423.76h12.6" stroke="#52EE7A"/><path d="M423.43 414.93v6.02M417.13 414.93h12.6M417.13 420.96h12.6" stroke="#52EE7A"/><path d="M424.63 413.9v6.1M418.33 413.9h12.6M418.33 420.01h12.6" stroke="#52EE7A"/><path d="M425.84 408.05v6.54M419.54 408.05h12.6M419.54 414.59h12.6" stroke="#52EE7A"/><path d="M427.04 403.64v6.87M420.74 403.64h12.6M420.74 410.52h12.6" stroke="#52EE7A"/><path d="M429.11 399.68v7.18M422.81 399.68h12.6M422.81 406.86h12.6" stroke="#52EE7A"/><path d="M430.83 395.8v7.49M424.53 395.8h12.6M424.53 403.3h12.6" stroke="#52EE7A"/><path d="M432.55 394.07v7.62M426.25 394.07h12.6M426.25 401.69h12.6" stroke="#52EE7A"/><path d="M434.27 390.78v7.88M427.97 390.78h12.6M427.97 398.66h12.6" stroke="#52EE7A"/><path d="M435.99 387.62v8.11M429.69 387.62h12.6M429.69 395.73h12.6" stroke="#52EE7A"/><path d="M437.72 385.63v8.26M431.42 385.63h12.6M431.42 393.9h12.6" stroke="#52EE7A"/><path d="M439.44 383.73v8.42M433.14 383.73h12.6M433.14 392.15h12.6" stroke="#52EE7A"/><path d="M441.16 380.2v8.68M434.86 380.2h12.6M434.86 388.88h12.6" stroke="#52EE7A"/><path d="M442.88 379.84v8.7M436.58 379.84h12.6M436.58 388.54h12.6" stroke="#52EE7A"/><path d="M444.6 378.49v8.81M438.3 378.49h12.6M438.3 387.29h12.6" stroke="#52EE7A"/><path d="M446.32 376.21v8.99M440.02 376.21h12.6M440.02 385.2h12.6" stroke="#52EE7A"/><path d="M448.04 374.87v9.09M441.74 374.87h12.6M441.74 383.96h12.6" stroke="#52EE7A"/><path d="M449.76 373.2v9.22M443.46 373.2h12.6M443.46 382.42h12.6" stroke="#52EE7A"/><path d="M451.49 372.05v9.32M445.19 372.05h12.6M445.19 381.37h12.6" stroke="#52EE7A"/><path d="M453.21 369.35v9.53M446.91 369.35h12.6M446.91 378.87h12.6" stroke="#52EE7A"/><path d="M454.93 369.71v9.5M448.63 369.71h12.6M448.63 379.21h12.6" stroke="#52EE7A"/><path d="M456.65 368.94v9.55M450.35 368.94h12.6M450.35 378.49h12.6" stroke="#52EE7A"/><path d="M458.37 367.93v9.63M452.07 367.93h12.6M452.07 377.56h12.6" stroke="#52EE7A"/><path d="M460.09 366.25v9.76M453.79 366.25h12.6M453.79 376h12.6" stroke="#52EE7A"/><path d="M461.81 366.65v9.73M455.51 366.65h12.6M455.51 376.38h12.6" stroke="#52EE7A"/><path d="M463.54 365.82v9.78M457.24 365.82h12.6M457.24 375.61h12.6" stroke="#52EE7A"/><path d="M465.26 362.64v10.04M458.96 362.64h12.6M458.96 372.68h12.6" stroke="#52EE7A"/><path d="M497.45 359.6v7.72M491.15 359.6h12.6M491.15 367.33h12.6" stroke="#52EE7A"/><path d="M521.54 353.81v7.72M515.24 353.81h12.6M515.24 361.53h12.6" stroke="#52EE7A"/><path d="M545.64 356.13v7.72M539.34 356.13h12.6M539.34 363.85h12.6" stroke="#52EE7A"/><path d="M568.02 355.48v7.72M561.72 355.48h12.6M561.72 363.21h12.6" stroke="#52EE7A"/><path d="M619.66 350.98v8.75M613.36 350.98h12.6M613.36 359.73h12.6" stroke="#52EE7A"/><path d="M413.96 482.08v1.44M407.66 482.08h12.6M407.66 483.52h12.6" stroke="#FF84FA"/><path d="M414.82 476.57v2.16M408.52 476.57h12.6M408.52 478.73h12.6" stroke="#FF84FA"/><path d="M416.54 479.74v1.75M410.24 479.74h12.6M410.24 481.49h12.6" stroke="#FF84FA"/><path d="M418.26 468.31v3.24M411.96 468.31h12.6M411.96 471.55h12.6" stroke="#FF84FA"/><path d="M419.99 475.19v2.34M413.69 475.19h12.6M413.69 477.54h12.6" stroke="#FF84FA"/><path d="M421.71 472.17v2.73M415.41 472.17h12.6M415.41 474.9h12.6" stroke="#FF84FA"/><path d="M423.43 476.57v2.16M417.13 476.57h12.6M417.13 478.73h12.6" stroke="#FF84FA"/><path d="M425.15 457.02v4.71M418.85 457.02h12.6M418.85 461.73h12.6" stroke="#FF84FA"/><path d="M426.01 474.64v2.42M419.71 474.64h12.6M419.71 477.06h12.6" stroke="#FF84FA"/><path d="M426.87 480.97v1.6M420.57 480.97h12.6M420.57 482.57h12.6" stroke="#FF84FA"/><path d="M428.59 479.33v1.8M422.29 479.33h12.6M422.29 481.13h12.6" stroke="#FF84FA"/><path d="M430.31 464.59v3.73M424.01 464.59h12.6M424.01 468.32h12.6" stroke="#FF84FA"/><path d="M432.03 483.6v1.24M425.73 483.6h12.6M425.73 484.84h12.6" stroke="#FF84FA"/><path d="M433.76 458.66v4.51M427.46 458.66h12.6M427.46 463.17h12.6" stroke="#FF84FA"/><path d="M435.48 448.75v5.79M429.18 448.75h12.6M429.18 454.54h12.6" stroke="#FF84FA"/><path d="M437.2 455.64v4.89M430.9 455.64h12.6M430.9 460.53h12.6" stroke="#FF84FA"/><path d="M438.06 441.72v6.72M431.76 441.72h12.6M431.76 448.44h12.6" stroke="#FF84FA"/><path d="M440.64 466.52v3.48M434.34 466.52h12.6M434.34 469.99h12.6" stroke="#FF84FA"/><path d="M442.36 438v7.21M436.06 438h12.6M436.06 445.21h12.6" stroke="#FF84FA"/><path d="M444.08 440.76v6.85M437.78 440.76h12.6M437.78 447.61h12.6" stroke="#FF84FA"/><path d="M445.81 451.78v5.41M439.51 451.78h12.6M439.51 457.18h12.6" stroke="#FF84FA"/><path d="M447.53 460.04v4.33M441.23 460.04h12.6M441.23 464.37h12.6" stroke="#FF84FA"/><path d="M449.25 451.92v5.38M442.95 451.92h12.6M442.95 457.3h12.6" stroke="#FF84FA"/><path d="M450.11 469.68v3.06M443.81 469.68h12.6M443.81 472.75h12.6" stroke="#FF84FA"/><path d="M450.97 447.64v5.95M444.67 447.64h12.6M444.67 453.59h12.6" stroke="#FF84FA"/><path d="M452.69 442.4v6.64M446.39 442.4h12.6M446.39 449.05h12.6" stroke="#FF84FA"/><path d="M454.41 444.89v6.31M448.11 444.89h12.6M448.11 451.2h12.6" stroke="#FF84FA"/><path d="M455.44 454.53v5.05M449.14 454.53h12.6M449.14 459.58h12.6" stroke="#FF84FA"/><path d="M457.85 443.51v6.49M451.55 443.51h12.6M451.55 450h12.6" stroke="#FF84FA"/><path d="M458.89 443.65v6.46M452.59 443.65h12.6M452.59 450.12h12.6" stroke="#FF84FA"/><path d="M461.3 444.19v6.41M455 444.19h12.6M455 450.61h12.6" stroke="#FF84FA"/><path d="M463.02 444.89v6.31M456.72 444.89h12.6M456.72 451.2h12.6" stroke="#FF84FA"/><path d="M464.74 443.65v6.46M458.44 443.65h12.6M458.44 450.12h12.6" stroke="#FF84FA"/><path d="M466.46 444.89v6.31M460.16 444.89h12.6M460.16 451.2h12.6" stroke="#FF84FA"/><path d="M497.45 434.4v9.01M491.15 434.4h12.6M491.15 443.41h12.6" stroke="#FF84FA"/><path d="M521.54 426.29v10.3M515.24 426.29h12.6M515.24 436.59h12.6" stroke="#FF84FA"/><path d="M545.64 431.44v9.27M539.34 431.44h12.6M539.34 440.71h12.6" stroke="#FF84FA"/><path d="M568.02 431.44v9.27M561.72 431.44h12.6M561.72 440.71h12.6" stroke="#FF84FA"/><path d="M619.66 473.15v3.86M613.36 473.15h12.6M613.36 477.01h12.6" stroke="#FF84FA"/></g>
</g>
<path d="M568.02 305.05V493.6" stroke="#111" stroke-width="2" stroke-dasharray="2.7 6.56" fill="none"/>
</g>
<g>
<path d="M86.61 772.3v-6M103.83 772.3v-6M121.04 772.3v-6M138.25 772.3v-6M155.47 772.3v-12.2M172.68 772.3v-6M189.89 772.3v-6M207.11 772.3v-6M224.32 772.3v-6M241.53 772.3v-12.2M258.75 772.3v-6M275.96 772.3v-6M293.17 772.3v-6M310.39 772.3v-6M69.4 759.43h6M69.4 746.55h6M69.4 733.68h6M69.4 720.81h6M69.4 707.93h12.2M69.4 695.06h6M69.4 682.19h6M69.4 669.31h6M69.4 656.44h6M69.4 643.57h12.2M69.4 630.69h6M69.4 617.82h6M69.4 604.95h6M69.4 592.07h6" stroke="#141414" stroke-width="1.45" fill="none"/>
<rect x="69.4" y="579.2" width="258.2" height="193.1" fill="none" stroke="#141414" stroke-width="1.5"/>
<text transform="translate(69.4,799.8) scale(0.93,1)" font-size="17.8" text-anchor="middle">0</text>
<text transform="translate(155.47,799.8) scale(0.93,1)" font-size="17.8" text-anchor="middle">50</text>
<text transform="translate(240.83,799.8) scale(0.88,1)" font-size="17.8" text-anchor="middle">100</text>
<text transform="translate(326.9,799.8) scale(0.88,1)" font-size="17.8" text-anchor="middle">150</text>
<text transform="translate(55.1,776.45) scale(0.93,1)" font-size="17.8" text-anchor="end">0</text>
<text transform="translate(55.1,712.08) scale(0.93,1)" font-size="17.8" text-anchor="end">50</text>
<text transform="translate(55.1,647.72) scale(0.88,1)" font-size="17.8" text-anchor="end">100</text>
<text transform="translate(55.1,583.35) scale(0.88,1)" font-size="17.8" text-anchor="end">150</text>
<text transform="translate(198.7,821.2) scale(0.93,1)" font-size="18" text-anchor="middle">Time (days)</text>
<text transform="translate(14.4,676.35) rotate(-90) scale(0.885,1)" font-size="18.4" text-anchor="middle">AG<tspan font-size="12.5" dy="5">i</tspan><tspan dy="-5"> (%)</tspan></text>
<text transform="translate(174.02,574.6) scale(0.88,1)" font-size="18" text-anchor="start">B14A3</text>
<rect x="86.85" y="585.55" width="8.1" height="8.1" fill="#ECC230"/>
<text transform="translate(115.7,595.1) scale(0.95,1)" font-size="14.3" text-anchor="start">Si</text>
<circle cx="151.9" cy="589.6" r="4.3" fill="#B45EEA"/>
<text transform="translate(177,595.1) scale(0.95,1)" font-size="14.3" text-anchor="start">B</text>
<path d="M208.6 583.47l5.3 9.2h-10.6z" fill="#52EE7A"/>
<text transform="translate(233.4,595.1) scale(0.95,1)" font-size="14.3" text-anchor="start">Na</text>
<path d="M90.9 618.13l-5.3 -9.2h10.6z" fill="#979797"/>
<text transform="translate(115.7,617.5) scale(0.95,1)" font-size="14.3" text-anchor="start">Al</text>
<path d="M151.9 606.1l5.8 5.9l-5.8 5.9l-5.8 -5.9z" fill="#FF84FA"/>
<text transform="translate(177,617.5) scale(0.95,1)" font-size="14.3" text-anchor="start">Ca</text>
<clipPath id="c4"><rect x="68.65" y="578.45" width="259.7" height="194.6"/></clipPath>
<g clip-path="url(#c4)">
<path d="M69.92 778.43l-5.3 -9.2h10.6z" fill="#979797"/><path d="M70.6 778.43l-5.3 -9.2h10.6z" fill="#979797"/><path d="M71.12 778.43l-5.3 -9.2h10.6z" fill="#979797"/><path d="M71.81 778.43l-5.3 -9.2h10.6z" fill="#979797"/><path d="M72.84 778.43l-5.3 -9.2h10.6z" fill="#979797"/><path d="M73.88 778.43l-5.3 -9.2h10.6z" fill="#979797"/><path d="M74.91 778.43l-5.3 -9.2h10.6z" fill="#979797"/><path d="M76.29 778.43l-5.3 -9.2h10.6z" fill="#979797"/><path d="M78.01 778.43l-5.3 -9.2h10.6z" fill="#979797"/><path d="M79.73 778.43l-5.3 -9.2h10.6z" fill="#979797"/><path d="M81.45 778.43l-5.3 -9.2h10.6z" fill="#979797"/><path d="M83.17 778.43l-5.3 -9.2h10.6z" fill="#979797"/><path d="M84.89 778.43l-5.3 -9.2h10.6z" fill="#979797"/><path d="M86.61 778.43l-5.3 -9.2h10.6z" fill="#979797"/><path d="M88.33 778.43l-5.3 -9.2h10.6z" fill="#979797"/><path d="M90.06 778.43l-5.3 -9.2h10.6z" fill="#979797"/><path d="M91.78 778.43l-5.3 -9.2h10.6z" fill="#979797"/><path d="M93.5 778.43l-5.3 -9.2h10.6z" fill="#979797"/><path d="M95.22 778.43l-5.3 -9.2h10.6z" fill="#979797"/><path d="M96.94 778.43l-5.3 -9.2h10.6z" fill="#979797"/><path d="M98.66 778.43l-5.3 -9.2h10.6z" fill="#979797"/><path d="M100.38 778.43l-5.3 -9.2h10.6z" fill="#979797"/><path d="M102.11 778.43l-5.3 -9.2h10.6z" fill="#979797"/><path d="M103.83 778.43l-5.3 -9.2h10.6z" fill="#979797"/><path d="M104.52 778.43l-5.3 -9.2h10.6z" fill="#979797"/><path d="M106.06 778.43l-5.3 -9.2h10.6z" fill="#979797"/><path d="M224.32 778.04l-5.3 -9.2h10.6z" fill="#979797"/><path d="M279.4 774.83l-5.3 -9.2h10.6z" fill="#979797"/>
<rect x="65.87" y="764.57" width="8.1" height="8.1" fill="#ECC230"/><rect x="66.55" y="763.98" width="8.1" height="8.1" fill="#ECC230"/><rect x="67.07" y="764.12" width="8.1" height="8.1" fill="#ECC230"/><rect x="67.76" y="763.92" width="8.1" height="8.1" fill="#ECC230"/><rect x="68.79" y="763.74" width="8.1" height="8.1" fill="#ECC230"/><rect x="69.83" y="763.85" width="8.1" height="8.1" fill="#ECC230"/><rect x="70.86" y="763.85" width="8.1" height="8.1" fill="#ECC230"/><rect x="72.24" y="764.04" width="8.1" height="8.1" fill="#ECC230"/><rect x="73.96" y="764.26" width="8.1" height="8.1" fill="#ECC230"/><rect x="75.68" y="764.39" width="8.1" height="8.1" fill="#ECC230"/><rect x="77.4" y="764.52" width="8.1" height="8.1" fill="#ECC230"/><rect x="79.12" y="764.32" width="8.1" height="8.1" fill="#ECC230"/><rect x="80.84" y="764.41" width="8.1" height="8.1" fill="#ECC230"/><rect x="82.56" y="764.35" width="8.1" height="8.1" fill="#ECC230"/><rect x="84.28" y="764.72" width="8.1" height="8.1" fill="#ECC230"/><rect x="86.01" y="764.92" width="8.1" height="8.1" fill="#ECC230"/><rect x="87.73" y="764.99" width="8.1" height="8.1" fill="#ECC230"/><rect x="89.45" y="765.28" width="8.1" height="8.1" fill="#ECC230"/><rect x="91.17" y="765.78" width="8.1" height="8.1" fill="#ECC230"/><rect x="92.89" y="765.35" width="8.1" height="8.1" fill="#ECC230"/><rect x="94.61" y="765.8" width="8.1" height="8.1" fill="#ECC230"/><rect x="96.33" y="765.82" width="8.1" height="8.1" fill="#ECC230"/><rect x="98.06" y="766.06" width="8.1" height="8.1" fill="#ECC230"/><rect x="99.78" y="765.57" width="8.1" height="8.1" fill="#ECC230"/><rect x="100.47" y="765.98" width="8.1" height="8.1" fill="#ECC230"/><rect x="220.27" y="756.02" width="8.1" height="8.1" fill="#ECC230"/><rect x="275.35" y="759.62" width="8.1" height="8.1" fill="#ECC230"/>
<circle cx="69.92" cy="707.65" r="4.3" fill="#B45EEA"/><circle cx="70.6" cy="690.57" r="4.3" fill="#B45EEA"/><circle cx="71.12" cy="671.22" r="4.3" fill="#B45EEA"/><circle cx="71.81" cy="664.15" r="4.3" fill="#B45EEA"/><circle cx="72.84" cy="659.7" r="4.3" fill="#B45EEA"/><circle cx="73.88" cy="656.41" r="4.3" fill="#B45EEA"/><circle cx="74.91" cy="653.05" r="4.3" fill="#B45EEA"/><circle cx="76.29" cy="650.13" r="4.3" fill="#B45EEA"/><circle cx="78.01" cy="647.6" r="4.3" fill="#B45EEA"/><circle cx="79.73" cy="643.88" r="4.3" fill="#B45EEA"/><circle cx="81.45" cy="638.96" r="4.3" fill="#B45EEA"/><circle cx="83.17" cy="637.08" r="4.3" fill="#B45EEA"/><circle cx="84.89" cy="635.13" r="4.3" fill="#B45EEA"/><circle cx="86.61" cy="634.63" r="4.3" fill="#B45EEA"/><circle cx="88.33" cy="633.86" r="4.3" fill="#B45EEA"/><circle cx="90.06" cy="633.82" r="4.3" fill="#B45EEA"/><circle cx="91.78" cy="633.28" r="4.3" fill="#B45EEA"/><circle cx="93.5" cy="633.33" r="4.3" fill="#B45EEA"/><circle cx="95.22" cy="635.03" r="4.3" fill="#B45EEA"/><circle cx="96.94" cy="634.19" r="4.3" fill="#B45EEA"/><circle cx="98.66" cy="635.38" r="4.3" fill="#B45EEA"/><circle cx="100.38" cy="635.79" r="4.3" fill="#B45EEA"/><circle cx="102.11" cy="636.63" r="4.3" fill="#B45EEA"/><circle cx="103.83" cy="636.1" r="4.3" fill="#B45EEA"/><circle cx="104.52" cy="636.56" r="4.3" fill="#B45EEA"/><circle cx="224.32" cy="632.62" r="4.3" fill="#B45EEA"/><circle cx="279.4" cy="638.42" r="4.3" fill="#B45EEA"/>
<path d="M69.92 735.25l5.3 9.2h-10.6z" fill="#52EE7A"/><path d="M70.6 709.44l5.3 9.2h-10.6z" fill="#52EE7A"/><path d="M71.12 694.47l5.3 9.2h-10.6z" fill="#52EE7A"/><path d="M71.81 677.29l5.3 9.2h-10.6z" fill="#52EE7A"/><path d="M72.84 669.16l5.3 9.2h-10.6z" fill="#52EE7A"/><path d="M73.88 666.87l5.3 9.2h-10.6z" fill="#52EE7A"/><path d="M74.91 662.11l5.3 9.2h-10.6z" fill="#52EE7A"/><path d="M76.29 658.5l5.3 9.2h-10.6z" fill="#52EE7A"/><path d="M78.01 657.25l5.3 9.2h-10.6z" fill="#52EE7A"/><path d="M79.73 655.91l5.3 9.2h-10.6z" fill="#52EE7A"/><path d="M81.45 654.49l5.3 9.2h-10.6z" fill="#52EE7A"/><path d="M83.17 651.56l5.3 9.2h-10.6z" fill="#52EE7A"/><path d="M84.89 651.24l5.3 9.2h-10.6z" fill="#52EE7A"/><path d="M86.61 649.61l5.3 9.2h-10.6z" fill="#52EE7A"/><path d="M88.33 647.23l5.3 9.2h-10.6z" fill="#52EE7A"/><path d="M90.06 646.68l5.3 9.2h-10.6z" fill="#52EE7A"/><path d="M91.78 644.62l5.3 9.2h-10.6z" fill="#52EE7A"/><path d="M93.5 642.1l5.3 9.2h-10.6z" fill="#52EE7A"/><path d="M95.22 643.26l5.3 9.2h-10.6z" fill="#52EE7A"/><path d="M96.94 644.04l5.3 9.2h-10.6z" fill="#52EE7A"/><path d="M98.66 644.25l5.3 9.2h-10.6z" fill="#52EE7A"/><path d="M100.38 645.21l5.3 9.2h-10.6z" fill="#52EE7A"/><path d="M102.11 644.07l5.3 9.2h-10.6z" fill="#52EE7A"/><path d="M103.83 644.45l5.3 9.2h-10.6z" fill="#52EE7A"/><path d="M104.52 643.77l5.3 9.2h-10.6z" fill="#52EE7A"/><path d="M224.32 636.79l5.3 9.2h-10.6z" fill="#52EE7A"/><path d="M279.4 641.81l5.3 9.2h-10.6z" fill="#52EE7A"/>
<path d="M69.92 758.84l5.8 5.9l-5.8 5.9l-5.8 -5.9z" fill="#FF84FA"/><path d="M70.6 753.19l5.8 5.9l-5.8 5.9l-5.8 -5.9z" fill="#FF84FA"/><path d="M71.12 749.81l5.8 5.9l-5.8 5.9l-5.8 -5.9z" fill="#FF84FA"/><path d="M71.81 746.01l5.8 5.9l-5.8 5.9l-5.8 -5.9z" fill="#FF84FA"/><path d="M72.84 743.19l5.8 5.9l-5.8 5.9l-5.8 -5.9z" fill="#FF84FA"/><path d="M73.88 740.79l5.8 5.9l-5.8 5.9l-5.8 -5.9z" fill="#FF84FA"/><path d="M74.91 739.08l5.8 5.9l-5.8 5.9l-5.8 -5.9z" fill="#FF84FA"/><path d="M76.29 738.55l5.8 5.9l-5.8 5.9l-5.8 -5.9z" fill="#FF84FA"/><path d="M78.01 737.25l5.8 5.9l-5.8 5.9l-5.8 -5.9z" fill="#FF84FA"/><path d="M79.73 737.27l5.8 5.9l-5.8 5.9l-5.8 -5.9z" fill="#FF84FA"/><path d="M81.45 736.37l5.8 5.9l-5.8 5.9l-5.8 -5.9z" fill="#FF84FA"/><path d="M83.17 735.39l5.8 5.9l-5.8 5.9l-5.8 -5.9z" fill="#FF84FA"/><path d="M84.89 735.14l5.8 5.9l-5.8 5.9l-5.8 -5.9z" fill="#FF84FA"/><path d="M86.61 732.49l5.8 5.9l-5.8 5.9l-5.8 -5.9z" fill="#FF84FA"/><path d="M88.33 733.3l5.8 5.9l-5.8 5.9l-5.8 -5.9z" fill="#FF84FA"/><path d="M90.06 733.89l5.8 5.9l-5.8 5.9l-5.8 -5.9z" fill="#FF84FA"/><path d="M91.78 735.95l5.8 5.9l-5.8 5.9l-5.8 -5.9z" fill="#FF84FA"/><path d="M93.5 736.62l5.8 5.9l-5.8 5.9l-5.8 -5.9z" fill="#FF84FA"/><path d="M95.22 736.71l5.8 5.9l-5.8 5.9l-5.8 -5.9z" fill="#FF84FA"/><path d="M96.94 735.65l5.8 5.9l-5.8 5.9l-5.8 -5.9z" fill="#FF84FA"/><path d="M98.66 734.35l5.8 5.9l-5.8 5.9l-5.8 -5.9z" fill="#FF84FA"/><path d="M100.38 734.42l5.8 5.9l-5.8 5.9l-5.8 -5.9z" fill="#FF84FA"/><path d="M102.11 734.36l5.8 5.9l-5.8 5.9l-5.8 -5.9z" fill="#FF84FA"/><path d="M103.83 735.41l5.8 5.9l-5.8 5.9l-5.8 -5.9z" fill="#FF84FA"/><path d="M104.52 734.92l5.8 5.9l-5.8 5.9l-5.8 -5.9z" fill="#FF84FA"/><path d="M85.32 716.58l5.8 5.9l-5.8 5.9l-5.8 -5.9z" fill="#FF84FA"/><path d="M93.67 707.44l5.8 5.9l-5.8 5.9l-5.8 -5.9z" fill="#FF84FA"/><path d="M224.32 734.22l5.8 5.9l-5.8 5.9l-5.8 -5.9z" fill="#FF84FA"/><path d="M279.4 749.41l5.8 5.9l-5.8 5.9l-5.8 -5.9z" fill="#FF84FA"/>
<g fill="none" stroke-width="1.25" stroke-opacity="0.55"><path d="M63.62 772.3h12.6" stroke="#979797"/><path d="M64.3 772.3h12.6" stroke="#979797"/><path d="M64.82 772.3h12.6" stroke="#979797"/><path d="M65.51 772.3h12.6" stroke="#979797"/><path d="M66.54 772.3h12.6" stroke="#979797"/><path d="M67.58 772.3h12.6" stroke="#979797"/><path d="M68.61 772.3h12.6" stroke="#979797"/><path d="M69.99 772.3h12.6" stroke="#979797"/><path d="M71.71 772.3h12.6" stroke="#979797"/><path d="M73.43 772.3h12.6" stroke="#979797"/><path d="M75.15 772.3h12.6" stroke="#979797"/><path d="M76.87 772.3h12.6" stroke="#979797"/><path d="M78.59 772.3h12.6" stroke="#979797"/><path d="M80.31 772.3h12.6" stroke="#979797"/><path d="M82.03 772.3h12.6" stroke="#979797"/><path d="M83.76 772.3h12.6" stroke="#979797"/><path d="M85.48 772.3h12.6" stroke="#979797"/><path d="M87.2 772.3h12.6" stroke="#979797"/><path d="M88.92 772.3h12.6" stroke="#979797"/><path d="M90.64 772.3h12.6" stroke="#979797"/><path d="M92.36 772.3h12.6" stroke="#979797"/><path d="M94.08 772.3h12.6" stroke="#979797"/><path d="M95.81 772.3h12.6" stroke="#979797"/><path d="M97.53 772.3h12.6" stroke="#979797"/><path d="M98.22 772.3h12.6" stroke="#979797"/><path d="M99.76 772.3h12.6" stroke="#979797"/><path d="M218.02 771.91h12.6" stroke="#979797"/><path d="M279.4 768.31v0.77M273.1 768.31h12.6M273.1 769.08h12.6" stroke="#979797"/><path d="M63.62 768.62h12.6" stroke="#ECC230"/><path d="M70.6 767.68v0.7M64.3 767.68h12.6M64.3 768.37h12.6" stroke="#ECC230"/><path d="M71.12 767.83v0.67M64.82 767.83h12.6M64.82 768.5h12.6" stroke="#ECC230"/><path d="M71.81 767.63v0.7M65.51 767.63h12.6M65.51 768.32h12.6" stroke="#ECC230"/><path d="M72.84 767.43v0.72M66.54 767.43h12.6M66.54 768.15h12.6" stroke="#ECC230"/><path d="M73.88 767.55v0.7M67.58 767.55h12.6M67.58 768.24h12.6" stroke="#ECC230"/><path d="M74.91 767.55v0.7M68.61 767.55h12.6M68.61 768.24h12.6" stroke="#ECC230"/><path d="M76.29 767.76v0.67M69.99 767.76h12.6M69.99 768.43h12.6" stroke="#ECC230"/><path d="M78.01 767.99v0.64M71.71 767.99h12.6M71.71 768.63h12.6" stroke="#ECC230"/><path d="M79.73 768.13v0.62M73.43 768.13h12.6M73.43 768.75h12.6" stroke="#ECC230"/><path d="M75.15 768.57h12.6" stroke="#ECC230"/><path d="M83.17 768.06v0.62M76.87 768.06h12.6M76.87 768.68h12.6" stroke="#ECC230"/><path d="M84.89 768.15v0.62M78.59 768.15h12.6M78.59 768.77h12.6" stroke="#ECC230"/><path d="M86.61 768.09v0.62M80.31 768.09h12.6M80.31 768.71h12.6" stroke="#ECC230"/><path d="M82.03 768.77h12.6" stroke="#ECC230"/><path d="M83.76 768.97h12.6" stroke="#ECC230"/><path d="M85.48 769.04h12.6" stroke="#ECC230"/><path d="M87.2 769.33h12.6" stroke="#ECC230"/><path d="M88.92 769.83h12.6" stroke="#ECC230"/><path d="M90.64 769.4h12.6" stroke="#ECC230"/><path d="M92.36 769.85h12.6" stroke="#ECC230"/><path d="M94.08 769.87h12.6" stroke="#ECC230"/><path d="M95.81 770.11h12.6" stroke="#ECC230"/><path d="M97.53 769.62h12.6" stroke="#ECC230"/><path d="M98.22 770.03h12.6" stroke="#ECC230"/><path d="M224.32 759.17v1.8M218.02 759.17h12.6M218.02 760.97h12.6" stroke="#ECC230"/><path d="M279.4 763.03v1.29M273.1 763.03h12.6M273.1 764.32h12.6" stroke="#ECC230"/><path d="M69.92 705.71v3.89M63.62 705.71h12.6M63.62 709.59h12.6" stroke="#B45EEA"/><path d="M70.6 688.12v4.89M64.3 688.12h12.6M64.3 693.01h12.6" stroke="#B45EEA"/><path d="M71.12 668.18v6.08M64.82 668.18h12.6M64.82 674.26h12.6" stroke="#B45EEA"/><path d="M71.81 660.91v6.49M65.51 660.91h12.6M65.51 667.4h12.6" stroke="#B45EEA"/><path d="M72.84 656.32v6.75M66.54 656.32h12.6M66.54 663.07h12.6" stroke="#B45EEA"/><path d="M73.88 652.94v6.95M67.58 652.94h12.6M67.58 659.89h12.6" stroke="#B45EEA"/><path d="M74.91 649.48v7.16M68.61 649.48h12.6M68.61 656.63h12.6" stroke="#B45EEA"/><path d="M76.29 646.46v7.34M69.99 646.46h12.6M69.99 653.8h12.6" stroke="#B45EEA"/><path d="M78.01 643.85v7.49M71.71 643.85h12.6M71.71 651.34h12.6" stroke="#B45EEA"/><path d="M79.73 640.03v7.7M73.43 640.03h12.6M73.43 647.72h12.6" stroke="#B45EEA"/><path d="M81.45 634.95v8.01M75.15 634.95h12.6M75.15 642.96h12.6" stroke="#B45EEA"/><path d="M83.17 633.02v8.11M76.87 633.02h12.6M76.87 641.13h12.6" stroke="#B45EEA"/><path d="M84.89 631.02v8.24M78.59 631.02h12.6M78.59 639.25h12.6" stroke="#B45EEA"/><path d="M86.61 630.5v8.26M80.31 630.5h12.6M80.31 638.76h12.6" stroke="#B45EEA"/><path d="M88.33 629.7v8.32M82.03 629.7h12.6M82.03 638.02h12.6" stroke="#B45EEA"/><path d="M90.06 629.66v8.32M83.76 629.66h12.6M83.76 637.98h12.6" stroke="#B45EEA"/><path d="M91.78 629.11v8.34M85.48 629.11h12.6M85.48 637.45h12.6" stroke="#B45EEA"/><path d="M93.5 629.16v8.34M87.2 629.16h12.6M87.2 637.5h12.6" stroke="#B45EEA"/><path d="M95.22 630.91v8.24M88.92 630.91h12.6M88.92 639.15h12.6" stroke="#B45EEA"/><path d="M96.94 630.05v8.29M90.64 630.05h12.6M90.64 638.34h12.6" stroke="#B45EEA"/><path d="M98.66 631.27v8.21M92.36 631.27h12.6M92.36 639.49h12.6" stroke="#B45EEA"/><path d="M100.38 631.7v8.19M94.08 631.7h12.6M94.08 639.88h12.6" stroke="#B45EEA"/><path d="M102.11 632.56v8.14M95.81 632.56h12.6M95.81 640.7h12.6" stroke="#B45EEA"/><path d="M103.83 632.02v8.16M97.53 632.02h12.6M97.53 640.18h12.6" stroke="#B45EEA"/><path d="M104.52 632.5v8.14M98.22 632.5h12.6M98.22 640.63h12.6" stroke="#B45EEA"/><path d="M224.32 628.38v8.5M218.02 628.38h12.6M218.02 636.87h12.6" stroke="#B45EEA"/><path d="M279.4 634.17v8.5M273.1 634.17h12.6M273.1 642.67h12.6" stroke="#B45EEA"/><path d="M69.92 740.45v1.85M63.62 740.45h12.6M63.62 742.31h12.6" stroke="#52EE7A"/><path d="M70.6 713.87v3.4M64.3 713.87h12.6M64.3 717.27h12.6" stroke="#52EE7A"/><path d="M71.12 698.45v4.3M64.82 698.45h12.6M64.82 702.75h12.6" stroke="#52EE7A"/><path d="M71.81 680.76v5.33M65.51 680.76h12.6M65.51 686.09h12.6" stroke="#52EE7A"/><path d="M72.84 672.38v5.82M66.54 672.38h12.6M66.54 678.2h12.6" stroke="#52EE7A"/><path d="M73.88 670.02v5.95M67.58 670.02h12.6M67.58 675.97h12.6" stroke="#52EE7A"/><path d="M74.91 665.13v6.23M68.61 665.13h12.6M68.61 671.36h12.6" stroke="#52EE7A"/><path d="M76.29 661.4v6.46M69.99 661.4h12.6M69.99 667.86h12.6" stroke="#52EE7A"/><path d="M78.01 660.11v6.54M71.71 660.11h12.6M71.71 666.65h12.6" stroke="#52EE7A"/><path d="M79.73 658.73v6.62M73.43 658.73h12.6M73.43 665.35h12.6" stroke="#52EE7A"/><path d="M81.45 657.28v6.69M75.15 657.28h12.6M75.15 663.97h12.6" stroke="#52EE7A"/><path d="M83.17 654.25v6.87M76.87 654.25h12.6M76.87 661.13h12.6" stroke="#52EE7A"/><path d="M84.89 653.92v6.9M78.59 653.92h12.6M78.59 660.82h12.6" stroke="#52EE7A"/><path d="M86.61 652.24v7M80.31 652.24h12.6M80.31 659.25h12.6" stroke="#52EE7A"/><path d="M88.33 649.8v7.13M82.03 649.8h12.6M82.03 656.93h12.6" stroke="#52EE7A"/><path d="M90.06 649.23v7.16M83.76 649.23h12.6M83.76 656.39h12.6" stroke="#52EE7A"/><path d="M91.78 647.11v7.29M85.48 647.11h12.6M85.48 654.39h12.6" stroke="#52EE7A"/><path d="M93.5 644.51v7.44M87.2 644.51h12.6M87.2 651.95h12.6" stroke="#52EE7A"/><path d="M95.22 645.7v7.36M88.92 645.7h12.6M88.92 653.07h12.6" stroke="#52EE7A"/><path d="M96.94 646.5v7.34M90.64 646.5h12.6M90.64 653.84h12.6" stroke="#52EE7A"/><path d="M98.66 646.72v7.31M92.36 646.72h12.6M92.36 654.03h12.6" stroke="#52EE7A"/><path d="M100.38 647.71v7.26M94.08 647.71h12.6M94.08 654.97h12.6" stroke="#52EE7A"/><path d="M102.11 646.53v7.34M95.81 646.53h12.6M95.81 653.87h12.6" stroke="#52EE7A"/><path d="M103.83 646.93v7.31M97.53 646.93h12.6M97.53 654.24h12.6" stroke="#52EE7A"/><path d="M104.52 646.23v7.34M98.22 646.23h12.6M98.22 653.57h12.6" stroke="#52EE7A"/><path d="M224.32 639.06v7.72M218.02 639.06h12.6M218.02 646.79h12.6" stroke="#52EE7A"/><path d="M279.4 644.08v7.72M273.1 644.08h12.6M273.1 651.81h12.6" stroke="#52EE7A"/><path d="M69.92 764.14v1.21M63.62 764.14h12.6M63.62 765.35h12.6" stroke="#FF84FA"/><path d="M70.6 758.04v2.11M64.3 758.04h12.6M64.3 760.15h12.6" stroke="#FF84FA"/><path d="M71.12 754.38v2.65M64.82 754.38h12.6M64.82 757.03h12.6" stroke="#FF84FA"/><path d="M71.81 750.27v3.27M65.51 750.27h12.6M65.51 753.54h12.6" stroke="#FF84FA"/><path d="M72.84 747.24v3.71M66.54 747.24h12.6M66.54 750.94h12.6" stroke="#FF84FA"/><path d="M73.88 744.65v4.09M67.58 744.65h12.6M67.58 748.74h12.6" stroke="#FF84FA"/><path d="M74.91 742.79v4.38M68.61 742.79h12.6M68.61 747.17h12.6" stroke="#FF84FA"/><path d="M76.29 742.23v4.45M69.99 742.23h12.6M69.99 746.68h12.6" stroke="#FF84FA"/><path d="M78.01 740.82v4.66M71.71 740.82h12.6M71.71 745.48h12.6" stroke="#FF84FA"/><path d="M79.73 740.84v4.66M73.43 740.84h12.6M73.43 745.5h12.6" stroke="#FF84FA"/><path d="M81.45 739.86v4.81M75.15 739.86h12.6M75.15 744.67h12.6" stroke="#FF84FA"/><path d="M83.17 738.8v4.97M76.87 738.8h12.6M76.87 743.77h12.6" stroke="#FF84FA"/><path d="M84.89 738.55v4.99M78.59 738.55h12.6M78.59 743.54h12.6" stroke="#FF84FA"/><path d="M86.61 735.68v5.43M80.31 735.68h12.6M80.31 741.11h12.6" stroke="#FF84FA"/><path d="M88.33 736.55v5.3M82.03 736.55h12.6M82.03 741.85h12.6" stroke="#FF84FA"/><path d="M90.06 737.19v5.2M83.76 737.19h12.6M83.76 742.4h12.6" stroke="#FF84FA"/><path d="M91.78 739.42v4.87M85.48 739.42h12.6M85.48 744.29h12.6" stroke="#FF84FA"/><path d="M93.5 740.14v4.76M87.2 740.14h12.6M87.2 744.91h12.6" stroke="#FF84FA"/><path d="M95.22 740.25v4.74M88.92 740.25h12.6M88.92 744.98h12.6" stroke="#FF84FA"/><path d="M96.94 739.09v4.92M90.64 739.09h12.6M90.64 744h12.6" stroke="#FF84FA"/><path d="M98.66 737.68v5.12M92.36 737.68h12.6M92.36 742.81h12.6" stroke="#FF84FA"/><path d="M100.38 737.76v5.12M94.08 737.76h12.6M94.08 742.88h12.6" stroke="#FF84FA"/><path d="M102.11 737.7v5.12M95.81 737.7h12.6M95.81 742.82h12.6" stroke="#FF84FA"/><path d="M103.83 738.83v4.97M97.53 738.83h12.6M97.53 743.8h12.6" stroke="#FF84FA"/><path d="M104.52 738.3v5.05M98.22 738.3h12.6M98.22 743.35h12.6" stroke="#FF84FA"/><path d="M85.32 718.36v8.24M79.02 718.36h12.6M79.02 726.6h12.6" stroke="#FF84FA"/><path d="M93.67 708.45v9.78M87.37 708.45h12.6M87.37 718.23h12.6" stroke="#FF84FA"/><path d="M224.32 736.25v7.72M218.02 736.25h12.6M218.02 743.98h12.6" stroke="#FF84FA"/><path d="M279.4 753.38v3.86M273.1 753.38h12.6M273.1 757.24h12.6" stroke="#FF84FA"/></g>
</g>
<path d="M224.02 585.15V772.8" stroke="#111" stroke-width="2" stroke-dasharray="2.7 6.56" fill="none"/>
</g>
<g>
<path d="M430.31 772.3v-6M447.53 772.3v-6M464.74 772.3v-6M481.95 772.3v-6M499.17 772.3v-12.2M516.38 772.3v-6M533.59 772.3v-6M550.81 772.3v-6M568.02 772.3v-6M585.23 772.3v-12.2M602.45 772.3v-6M619.66 772.3v-6M636.87 772.3v-6M654.09 772.3v-6M413.1 764.58h6M413.1 756.85h6M413.1 749.13h6M413.1 741.4h6M413.1 733.68h12.2M413.1 725.96h6M413.1 718.23h6M413.1 710.51h6M413.1 702.78h6M413.1 695.06h12.2M413.1 687.34h6M413.1 679.61h6M413.1 671.89h6M413.1 664.16h6M413.1 656.44h12.2M413.1 648.72h6M413.1 640.99h6M413.1 633.27h6M413.1 625.54h6M413.1 617.82h12.2M413.1 610.1h6M413.1 602.37h6M413.1 594.65h6M413.1 586.92h6" stroke="#141414" stroke-width="1.45" fill="none"/>
<rect x="413.1" y="579.2" width="258.2" height="193.1" fill="none" stroke="#141414" stroke-width="1.5"/>
<text transform="translate(413.1,799.8) scale(0.93,1)" font-size="17.8" text-anchor="middle">0</text>
<text transform="translate(499.17,799.8) scale(0.93,1)" font-size="17.8" text-anchor="middle">50</text>
<text transform="translate(584.53,799.8) scale(0.88,1)" font-size="17.8" text-anchor="middle">100</text>
<text transform="translate(670.6,799.8) scale(0.88,1)" font-size="17.8" text-anchor="middle">150</text>
<text transform="translate(398.8,776.45) scale(0.93,1)" font-size="17.8" text-anchor="end">0</text>
<text transform="translate(398.8,737.83) scale(0.93,1)" font-size="17.8" text-anchor="end">20</text>
<text transform="translate(398.8,699.21) scale(0.93,1)" font-size="17.8" text-anchor="end">40</text>
<text transform="translate(398.8,660.59) scale(0.93,1)" font-size="17.8" text-anchor="end">60</text>
<text transform="translate(398.8,621.97) scale(0.93,1)" font-size="17.8" text-anchor="end">80</text>
<text transform="translate(398.8,583.35) scale(0.88,1)" font-size="17.8" text-anchor="end">100</text>
<text transform="translate(542.4,821.2) scale(0.93,1)" font-size="18" text-anchor="middle">Time (days)</text>
<text transform="translate(358.1,676.35) rotate(-90) scale(0.885,1)" font-size="18.4" text-anchor="middle">AG<tspan font-size="12.5" dy="5">i</tspan><tspan dy="-5"> (%)</tspan></text>
<text transform="translate(527.88,574.6) scale(0.83,1)" font-size="18" text-anchor="start">B10A1</text>
<rect x="430" y="587.65" width="8.1" height="8.1" fill="#ECC230"/>
<text transform="translate(459.6,597.2) scale(0.95,1)" font-size="14.3" text-anchor="start">Si</text>
<circle cx="501.9" cy="591.7" r="4.3" fill="#B45EEA"/>
<text transform="translate(527.45,597.2) scale(0.95,1)" font-size="14.3" text-anchor="start">B</text>
<path d="M434.05 607.97l5.3 9.2h-10.6z" fill="#52EE7A"/>
<text transform="translate(459.6,619.6) scale(0.95,1)" font-size="14.3" text-anchor="start">Na</text>
<path d="M501.9 620.23l-5.3 -9.2h10.6z" fill="#979797"/>
<text transform="translate(527.45,619.6) scale(0.95,1)" font-size="14.3" text-anchor="start">Al</text>
<path d="M434.05 630.6l5.8 5.9l-5.8 5.9l-5.8 -5.9z" fill="#FF84FA"/>
<text transform="translate(459.6,642) scale(0.95,1)" font-size="14.3" text-anchor="start">Ca</text>
<clipPath id="c5"><rect x="412.35" y="578.45" width="259.7" height="194.6"/></clipPath>
<g clip-path="url(#c5)">
<path d="M413.62 778.43l-5.3 -9.2h10.6z" fill="#979797"/><path d="M415.34 778.43l-5.3 -9.2h10.6z" fill="#979797"/><path d="M417.06 778.43l-5.3 -9.2h10.6z" fill="#979797"/><path d="M418.78 778.43l-5.3 -9.2h10.6z" fill="#979797"/><path d="M420.5 778.43l-5.3 -9.2h10.6z" fill="#979797"/><path d="M422.22 778.43l-5.3 -9.2h10.6z" fill="#979797"/><path d="M423.94 778.43l-5.3 -9.2h10.6z" fill="#979797"/><path d="M425.67 778.43l-5.3 -9.2h10.6z" fill="#979797"/><path d="M427.39 778.43l-5.3 -9.2h10.6z" fill="#979797"/><path d="M429.11 778.43l-5.3 -9.2h10.6z" fill="#979797"/><path d="M430.83 778.43l-5.3 -9.2h10.6z" fill="#979797"/><path d="M432.55 778.43l-5.3 -9.2h10.6z" fill="#979797"/><path d="M434.27 778.43l-5.3 -9.2h10.6z" fill="#979797"/><path d="M435.99 778.43l-5.3 -9.2h10.6z" fill="#979797"/><path d="M437.72 778.43l-5.3 -9.2h10.6z" fill="#979797"/><path d="M439.44 778.43l-5.3 -9.2h10.6z" fill="#979797"/><path d="M441.16 778.43l-5.3 -9.2h10.6z" fill="#979797"/><path d="M442.88 778.43l-5.3 -9.2h10.6z" fill="#979797"/><path d="M444.6 778.43l-5.3 -9.2h10.6z" fill="#979797"/><path d="M446.32 778.43l-5.3 -9.2h10.6z" fill="#979797"/><path d="M448.04 778.43l-5.3 -9.2h10.6z" fill="#979797"/><path d="M449.76 778.43l-5.3 -9.2h10.6z" fill="#979797"/><path d="M451.49 778.43l-5.3 -9.2h10.6z" fill="#979797"/><path d="M453.21 778.43l-5.3 -9.2h10.6z" fill="#979797"/><path d="M454.93 778.43l-5.3 -9.2h10.6z" fill="#979797"/><path d="M456.65 778.43l-5.3 -9.2h10.6z" fill="#979797"/><path d="M458.37 778.43l-5.3 -9.2h10.6z" fill="#979797"/><path d="M460.09 778.43l-5.3 -9.2h10.6z" fill="#979797"/><path d="M461.81 778.43l-5.3 -9.2h10.6z" fill="#979797"/><path d="M463.54 778.43l-5.3 -9.2h10.6z" fill="#979797"/><path d="M465.26 778.43l-5.3 -9.2h10.6z" fill="#979797"/><path d="M497.45 778.43l-5.3 -9.2h10.6z" fill="#979797"/><path d="M521.54 778.43l-5.3 -9.2h10.6z" fill="#979797"/><path d="M545.64 778.43l-5.3 -9.2h10.6z" fill="#979797"/><path d="M568.02 778.43l-5.3 -9.2h10.6z" fill="#979797"/><path d="M621.38 778.43l-5.3 -9.2h10.6z" fill="#979797"/>
<rect x="409.57" y="755.2" width="8.1" height="8.1" fill="#ECC230"/><rect x="411.29" y="754.21" width="8.1" height="8.1" fill="#ECC230"/><rect x="413.01" y="753.52" width="8.1" height="8.1" fill="#ECC230"/><rect x="414.73" y="753.81" width="8.1" height="8.1" fill="#ECC230"/><rect x="416.45" y="754.19" width="8.1" height="8.1" fill="#ECC230"/><rect x="418.17" y="753.79" width="8.1" height="8.1" fill="#ECC230"/><rect x="419.89" y="753.67" width="8.1" height="8.1" fill="#ECC230"/><rect x="421.62" y="753.5" width="8.1" height="8.1" fill="#ECC230"/><rect x="423.34" y="754.48" width="8.1" height="8.1" fill="#ECC230"/><rect x="425.06" y="754.6" width="8.1" height="8.1" fill="#ECC230"/><rect x="426.78" y="753.9" width="8.1" height="8.1" fill="#ECC230"/><rect x="428.5" y="754.08" width="8.1" height="8.1" fill="#ECC230"/><rect x="430.22" y="753.75" width="8.1" height="8.1" fill="#ECC230"/><rect x="431.94" y="754.04" width="8.1" height="8.1" fill="#ECC230"/><rect x="433.67" y="754.52" width="8.1" height="8.1" fill="#ECC230"/><rect x="435.39" y="754.73" width="8.1" height="8.1" fill="#ECC230"/><rect x="437.11" y="753.94" width="8.1" height="8.1" fill="#ECC230"/><rect x="443.65" y="756.28" width="8.1" height="8.1" fill="#ECC230"/><rect x="449.33" y="758.02" width="8.1" height="8.1" fill="#ECC230"/><rect x="455.87" y="759.75" width="8.1" height="8.1" fill="#ECC230"/><rect x="461.12" y="761.88" width="8.1" height="8.1" fill="#ECC230"/><rect x="493.4" y="759.75" width="8.1" height="8.1" fill="#ECC230"/><rect x="517.49" y="758.6" width="8.1" height="8.1" fill="#ECC230"/><rect x="541.59" y="758.6" width="8.1" height="8.1" fill="#ECC230"/><rect x="563.97" y="756.86" width="8.1" height="8.1" fill="#ECC230"/><rect x="617.33" y="757.63" width="8.1" height="8.1" fill="#ECC230"/>
<circle cx="413.62" cy="732.06" r="4.3" fill="#B45EEA"/><circle cx="415.34" cy="721.73" r="4.3" fill="#B45EEA"/><circle cx="417.06" cy="715.1" r="4.3" fill="#B45EEA"/><circle cx="418.78" cy="711.59" r="4.3" fill="#B45EEA"/><circle cx="420.5" cy="705.85" r="4.3" fill="#B45EEA"/><circle cx="422.22" cy="704.43" r="4.3" fill="#B45EEA"/><circle cx="423.94" cy="703.65" r="4.3" fill="#B45EEA"/><circle cx="425.67" cy="699.15" r="4.3" fill="#B45EEA"/><circle cx="427.39" cy="701.43" r="4.3" fill="#B45EEA"/><circle cx="429.11" cy="701.55" r="4.3" fill="#B45EEA"/><circle cx="430.83" cy="700.76" r="4.3" fill="#B45EEA"/><circle cx="432.55" cy="698.48" r="4.3" fill="#B45EEA"/><circle cx="434.27" cy="695.68" r="4.3" fill="#B45EEA"/><circle cx="435.99" cy="694.42" r="4.3" fill="#B45EEA"/><circle cx="437.72" cy="693.01" r="4.3" fill="#B45EEA"/><circle cx="439.44" cy="691.26" r="4.3" fill="#B45EEA"/><circle cx="441.16" cy="691.1" r="4.3" fill="#B45EEA"/><circle cx="447.7" cy="692.16" r="4.3" fill="#B45EEA"/><circle cx="453.38" cy="691.2" r="4.3" fill="#B45EEA"/><circle cx="459.92" cy="689.65" r="4.3" fill="#B45EEA"/><circle cx="465.17" cy="687.72" r="4.3" fill="#B45EEA"/><circle cx="497.45" cy="685.79" r="4.3" fill="#B45EEA"/><circle cx="521.54" cy="682.7" r="4.3" fill="#B45EEA"/><circle cx="545.64" cy="682.32" r="4.3" fill="#B45EEA"/><circle cx="568.02" cy="680" r="4.3" fill="#B45EEA"/><circle cx="621.38" cy="683.09" r="4.3" fill="#B45EEA"/>
<path d="M413.62 716.12l5.3 9.2h-10.6z" fill="#52EE7A"/><path d="M415.34 702.04l5.3 9.2h-10.6z" fill="#52EE7A"/><path d="M417.06 695.17l5.3 9.2h-10.6z" fill="#52EE7A"/><path d="M418.78 692.68l5.3 9.2h-10.6z" fill="#52EE7A"/><path d="M420.5 685.53l5.3 9.2h-10.6z" fill="#52EE7A"/><path d="M422.22 681.84l5.3 9.2h-10.6z" fill="#52EE7A"/><path d="M423.94 680.55l5.3 9.2h-10.6z" fill="#52EE7A"/><path d="M425.67 678.58l5.3 9.2h-10.6z" fill="#52EE7A"/><path d="M427.39 677.94l5.3 9.2h-10.6z" fill="#52EE7A"/><path d="M429.11 677.65l5.3 9.2h-10.6z" fill="#52EE7A"/><path d="M430.83 677.07l5.3 9.2h-10.6z" fill="#52EE7A"/><path d="M432.55 675.28l5.3 9.2h-10.6z" fill="#52EE7A"/><path d="M434.27 674.87l5.3 9.2h-10.6z" fill="#52EE7A"/><path d="M435.99 672.32l5.3 9.2h-10.6z" fill="#52EE7A"/><path d="M437.72 672.57l5.3 9.2h-10.6z" fill="#52EE7A"/><path d="M439.44 675.95l5.3 9.2h-10.6z" fill="#52EE7A"/><path d="M441.16 673.06l5.3 9.2h-10.6z" fill="#52EE7A"/><path d="M447.7 676.76l5.3 9.2h-10.6z" fill="#52EE7A"/><path d="M453.38 675.8l5.3 9.2h-10.6z" fill="#52EE7A"/><path d="M459.92 676.76l5.3 9.2h-10.6z" fill="#52EE7A"/><path d="M465.17 671.74l5.3 9.2h-10.6z" fill="#52EE7A"/><path d="M497.45 672.32l5.3 9.2h-10.6z" fill="#52EE7A"/><path d="M521.54 668.46l5.3 9.2h-10.6z" fill="#52EE7A"/><path d="M545.64 667.69l5.3 9.2h-10.6z" fill="#52EE7A"/><path d="M568.02 665.37l5.3 9.2h-10.6z" fill="#52EE7A"/><path d="M621.38 666.53l5.3 9.2h-10.6z" fill="#52EE7A"/>
<path d="M413.62 757.71l5.8 5.9l-5.8 5.9l-5.8 -5.9z" fill="#FF84FA"/><path d="M414.82 727.97l5.8 5.9l-5.8 5.9l-5.8 -5.9z" fill="#FF84FA"/><path d="M416.03 727.78l5.8 5.9l-5.8 5.9l-5.8 -5.9z" fill="#FF84FA"/><path d="M417.23 726.62l5.8 5.9l-5.8 5.9l-5.8 -5.9z" fill="#FF84FA"/><path d="M418.61 723.34l5.8 5.9l-5.8 5.9l-5.8 -5.9z" fill="#FF84FA"/><path d="M419.99 722.95l5.8 5.9l-5.8 5.9l-5.8 -5.9z" fill="#FF84FA"/><path d="M421.71 720.44l5.8 5.9l-5.8 5.9l-5.8 -5.9z" fill="#FF84FA"/><path d="M422.91 715.61l5.8 5.9l-5.8 5.9l-5.8 -5.9z" fill="#FF84FA"/><path d="M424.12 722.95l5.8 5.9l-5.8 5.9l-5.8 -5.9z" fill="#FF84FA"/><path d="M425.15 719.09l5.8 5.9l-5.8 5.9l-5.8 -5.9z" fill="#FF84FA"/><path d="M426.35 717.35l5.8 5.9l-5.8 5.9l-5.8 -5.9z" fill="#FF84FA"/><path d="M427.73 713.3l5.8 5.9l-5.8 5.9l-5.8 -5.9z" fill="#FF84FA"/><path d="M429.28 711.17l5.8 5.9l-5.8 5.9l-5.8 -5.9z" fill="#FF84FA"/><path d="M430.31 714.65l5.8 5.9l-5.8 5.9l-5.8 -5.9z" fill="#FF84FA"/><path d="M432.03 708.08l5.8 5.9l-5.8 5.9l-5.8 -5.9z" fill="#FF84FA"/><path d="M433.76 708.47l5.8 5.9l-5.8 5.9l-5.8 -5.9z" fill="#FF84FA"/><path d="M435.48 710.01l5.8 5.9l-5.8 5.9l-5.8 -5.9z" fill="#FF84FA"/><path d="M437.2 701.9l5.8 5.9l-5.8 5.9l-5.8 -5.9z" fill="#FF84FA"/><path d="M438.58 705.19l5.8 5.9l-5.8 5.9l-5.8 -5.9z" fill="#FF84FA"/><path d="M439.95 708.47l5.8 5.9l-5.8 5.9l-5.8 -5.9z" fill="#FF84FA"/><path d="M441.5 702.1l5.8 5.9l-5.8 5.9l-5.8 -5.9z" fill="#FF84FA"/><path d="M443.05 707.5l5.8 5.9l-5.8 5.9l-5.8 -5.9z" fill="#FF84FA"/><path d="M447.7 714.26l5.8 5.9l-5.8 5.9l-5.8 -5.9z" fill="#FF84FA"/><path d="M452.35 709.63l5.8 5.9l-5.8 5.9l-5.8 -5.9z" fill="#FF84FA"/><path d="M459.92 700.55l5.8 5.9l-5.8 5.9l-5.8 -5.9z" fill="#FF84FA"/><path d="M465.17 709.63l5.8 5.9l-5.8 5.9l-5.8 -5.9z" fill="#FF84FA"/><path d="M497.45 700.17l5.8 5.9l-5.8 5.9l-5.8 -5.9z" fill="#FF84FA"/><path d="M521.54 694.37l5.8 5.9l-5.8 5.9l-5.8 -5.9z" fill="#FF84FA"/><path d="M545.64 700.94l5.8 5.9l-5.8 5.9l-5.8 -5.9z" fill="#FF84FA"/><path d="M568.02 700.17l5.8 5.9l-5.8 5.9l-5.8 -5.9z" fill="#FF84FA"/><path d="M621.38 715.81l5.8 5.9l-5.8 5.9l-5.8 -5.9z" fill="#FF84FA"/>
<g fill="none" stroke-width="1.25" stroke-opacity="0.55"><path d="M407.32 772.3h12.6" stroke="#979797"/><path d="M409.04 772.3h12.6" stroke="#979797"/><path d="M410.76 772.3h12.6" stroke="#979797"/><path d="M412.48 772.3h12.6" stroke="#979797"/><path d="M414.2 772.3h12.6" stroke="#979797"/><path d="M415.92 772.3h12.6" stroke="#979797"/><path d="M417.64 772.3h12.6" stroke="#979797"/><path d="M419.37 772.3h12.6" stroke="#979797"/><path d="M421.09 772.3h12.6" stroke="#979797"/><path d="M422.81 772.3h12.6" stroke="#979797"/><path d="M424.53 772.3h12.6" stroke="#979797"/><path d="M426.25 772.3h12.6" stroke="#979797"/><path d="M427.97 772.3h12.6" stroke="#979797"/><path d="M429.69 772.3h12.6" stroke="#979797"/><path d="M431.42 772.3h12.6" stroke="#979797"/><path d="M433.14 772.3h12.6" stroke="#979797"/><path d="M434.86 772.3h12.6" stroke="#979797"/><path d="M436.58 772.3h12.6" stroke="#979797"/><path d="M438.3 772.3h12.6" stroke="#979797"/><path d="M440.02 772.3h12.6" stroke="#979797"/><path d="M441.74 772.3h12.6" stroke="#979797"/><path d="M443.46 772.3h12.6" stroke="#979797"/><path d="M445.19 772.3h12.6" stroke="#979797"/><path d="M446.91 772.3h12.6" stroke="#979797"/><path d="M448.63 772.3h12.6" stroke="#979797"/><path d="M450.35 772.3h12.6" stroke="#979797"/><path d="M452.07 772.3h12.6" stroke="#979797"/><path d="M453.79 772.3h12.6" stroke="#979797"/><path d="M455.51 772.3h12.6" stroke="#979797"/><path d="M457.24 772.3h12.6" stroke="#979797"/><path d="M458.96 772.3h12.6" stroke="#979797"/><path d="M491.15 772.3h12.6" stroke="#979797"/><path d="M515.24 772.3h12.6" stroke="#979797"/><path d="M539.34 772.3h12.6" stroke="#979797"/><path d="M561.72 772.3h12.6" stroke="#979797"/><path d="M615.08 772.3h12.6" stroke="#979797"/><path d="M413.62 758.34v1.82M407.32 758.34h12.6M407.32 760.15h12.6" stroke="#ECC230"/><path d="M415.34 757.28v1.97M409.04 757.28h12.6M409.04 759.25h12.6" stroke="#ECC230"/><path d="M417.06 756.54v2.05M410.76 756.54h12.6M410.76 758.59h12.6" stroke="#ECC230"/><path d="M418.78 756.85v2.01M412.48 756.85h12.6M412.48 758.86h12.6" stroke="#ECC230"/><path d="M420.5 757.26v1.97M414.2 757.26h12.6M414.2 759.23h12.6" stroke="#ECC230"/><path d="M422.22 756.83v2.01M415.92 756.83h12.6M415.92 758.84h12.6" stroke="#ECC230"/><path d="M423.94 756.7v2.05M417.64 756.7h12.6M417.64 758.74h12.6" stroke="#ECC230"/><path d="M425.67 756.52v2.05M419.37 756.52h12.6M419.37 758.57h12.6" stroke="#ECC230"/><path d="M427.39 757.57v1.93M421.09 757.57h12.6M421.09 759.5h12.6" stroke="#ECC230"/><path d="M429.11 757.7v1.89M422.81 757.7h12.6M422.81 759.59h12.6" stroke="#ECC230"/><path d="M430.83 756.95v2.01M424.53 756.95h12.6M424.53 758.96h12.6" stroke="#ECC230"/><path d="M432.55 757.14v1.97M426.25 757.14h12.6M426.25 759.11h12.6" stroke="#ECC230"/><path d="M434.27 756.77v2.05M427.97 756.77h12.6M427.97 758.82h12.6" stroke="#ECC230"/><path d="M435.99 757.08v2.01M429.69 757.08h12.6M429.69 759.09h12.6" stroke="#ECC230"/><path d="M437.72 757.61v1.93M431.42 757.61h12.6M431.42 759.54h12.6" stroke="#ECC230"/><path d="M439.44 757.84v1.89M433.14 757.84h12.6M433.14 759.73h12.6" stroke="#ECC230"/><path d="M441.16 756.99v2.01M434.86 756.99h12.6M434.86 759h12.6" stroke="#ECC230"/><path d="M447.7 759.56v1.54M441.4 759.56h12.6M441.4 761.1h12.6" stroke="#ECC230"/><path d="M453.38 761.29v1.54M447.08 761.29h12.6M447.08 762.84h12.6" stroke="#ECC230"/><path d="M459.92 763.22v1.16M453.62 763.22h12.6M453.62 764.38h12.6" stroke="#ECC230"/><path d="M465.17 765.35v1.16M458.87 765.35h12.6M458.87 766.51h12.6" stroke="#ECC230"/><path d="M497.45 763.03v1.54M491.15 763.03h12.6M491.15 764.58h12.6" stroke="#ECC230"/><path d="M521.54 761.87v1.54M515.24 761.87h12.6M515.24 763.42h12.6" stroke="#ECC230"/><path d="M545.64 761.87v1.54M539.34 761.87h12.6M539.34 763.42h12.6" stroke="#ECC230"/><path d="M568.02 759.94v1.93M561.72 759.94h12.6M561.72 761.87h12.6" stroke="#ECC230"/><path d="M621.38 760.71v1.93M615.08 760.71h12.6M615.08 762.65h12.6" stroke="#ECC230"/><path d="M413.62 729.05v6.02M407.32 729.05h12.6M407.32 735.07h12.6" stroke="#B45EEA"/><path d="M415.34 717.94v7.57M409.04 717.94h12.6M409.04 725.51h12.6" stroke="#B45EEA"/><path d="M417.06 710.82v8.57M410.76 710.82h12.6M410.76 719.39h12.6" stroke="#B45EEA"/><path d="M418.78 707.03v9.11M412.48 707.03h12.6M412.48 716.15h12.6" stroke="#B45EEA"/><path d="M420.5 700.87v9.96M414.2 700.87h12.6M414.2 710.84h12.6" stroke="#B45EEA"/><path d="M422.22 699.33v10.2M415.92 699.33h12.6M415.92 709.52h12.6" stroke="#B45EEA"/><path d="M423.94 698.5v10.31M417.64 698.5h12.6M417.64 708.81h12.6" stroke="#B45EEA"/><path d="M425.67 693.67v10.97M419.37 693.67h12.6M419.37 704.64h12.6" stroke="#B45EEA"/><path d="M427.39 696.12v10.62M421.09 696.12h12.6M421.09 706.74h12.6" stroke="#B45EEA"/><path d="M429.11 696.24v10.62M422.81 696.24h12.6M422.81 706.86h12.6" stroke="#B45EEA"/><path d="M430.83 695.39v10.74M424.53 695.39h12.6M424.53 706.12h12.6" stroke="#B45EEA"/><path d="M432.55 692.94v11.08M426.25 692.94h12.6M426.25 704.02h12.6" stroke="#B45EEA"/><path d="M434.27 689.92v11.51M427.97 689.92h12.6M427.97 701.43h12.6" stroke="#B45EEA"/><path d="M435.99 688.59v11.66M429.69 688.59h12.6M429.69 700.25h12.6" stroke="#B45EEA"/><path d="M437.72 687.07v11.89M431.42 687.07h12.6M431.42 698.96h12.6" stroke="#B45EEA"/><path d="M439.44 685.17v12.17M433.14 685.17h12.6M433.14 697.34h12.6" stroke="#B45EEA"/><path d="M441.16 685.02v12.17M434.86 685.02h12.6M434.86 697.18h12.6" stroke="#B45EEA"/><path d="M447.7 686.18v11.97M441.4 686.18h12.6M441.4 698.15h12.6" stroke="#B45EEA"/><path d="M453.38 685.02v12.36M447.08 685.02h12.6M447.08 697.38h12.6" stroke="#B45EEA"/><path d="M459.92 683.47v12.36M453.62 683.47h12.6M453.62 695.83h12.6" stroke="#B45EEA"/><path d="M465.17 681.35v12.74M458.87 681.35h12.6M458.87 694.09h12.6" stroke="#B45EEA"/><path d="M497.45 678.84v13.9M491.15 678.84h12.6M491.15 692.74h12.6" stroke="#B45EEA"/><path d="M521.54 675.75v13.9M515.24 675.75h12.6M515.24 689.65h12.6" stroke="#B45EEA"/><path d="M545.64 675.36v13.9M539.34 675.36h12.6M539.34 689.27h12.6" stroke="#B45EEA"/><path d="M568.02 672.66v14.68M561.72 672.66h12.6M561.72 687.34h12.6" stroke="#B45EEA"/><path d="M621.38 676.14v13.9M615.08 676.14h12.6M615.08 690.04h12.6" stroke="#B45EEA"/><path d="M413.62 719.49v5.52M407.32 719.49h12.6M407.32 725.01h12.6" stroke="#52EE7A"/><path d="M415.34 704.64v7.07M409.04 704.64h12.6M409.04 711.71h12.6" stroke="#52EE7A"/><path d="M417.06 697.4v7.8M410.76 697.4h12.6M410.76 705.2h12.6" stroke="#52EE7A"/><path d="M418.78 694.77v8.07M412.48 694.77h12.6M412.48 702.84h12.6" stroke="#52EE7A"/><path d="M420.5 687.22v8.88M414.2 687.22h12.6M414.2 696.1h12.6" stroke="#52EE7A"/><path d="M422.22 683.34v9.27M415.92 683.34h12.6M415.92 692.61h12.6" stroke="#52EE7A"/><path d="M423.94 681.97v9.42M417.64 681.97h12.6M417.64 691.39h12.6" stroke="#52EE7A"/><path d="M425.67 679.9v9.62M419.37 679.9h12.6M419.37 689.52h12.6" stroke="#52EE7A"/><path d="M427.39 679.23v9.69M421.09 679.23h12.6M421.09 688.92h12.6" stroke="#52EE7A"/><path d="M429.11 678.92v9.73M422.81 678.92h12.6M422.81 688.65h12.6" stroke="#52EE7A"/><path d="M430.83 678.3v9.81M424.53 678.3h12.6M424.53 688.11h12.6" stroke="#52EE7A"/><path d="M432.55 676.41v10M426.25 676.41h12.6M426.25 686.41h12.6" stroke="#52EE7A"/><path d="M434.27 675.98v10.04M427.97 675.98h12.6M427.97 686.02h12.6" stroke="#52EE7A"/><path d="M435.99 673.3v10.31M429.69 673.3h12.6M429.69 683.61h12.6" stroke="#52EE7A"/><path d="M437.72 673.55v10.31M431.42 673.55h12.6M431.42 683.86h12.6" stroke="#52EE7A"/><path d="M439.44 677.12v9.93M433.14 677.12h12.6M433.14 687.05h12.6" stroke="#52EE7A"/><path d="M441.16 674.07v10.23M434.86 674.07h12.6M434.86 684.3h12.6" stroke="#52EE7A"/><path d="M447.7 677.1v11.59M441.4 677.1h12.6M441.4 688.69h12.6" stroke="#52EE7A"/><path d="M453.38 676.14v11.59M447.08 676.14h12.6M447.08 687.72h12.6" stroke="#52EE7A"/><path d="M459.92 677.1v11.59M453.62 677.1h12.6M453.62 688.69h12.6" stroke="#52EE7A"/><path d="M465.17 670.34v15.06M458.87 670.34h12.6M458.87 685.41h12.6" stroke="#52EE7A"/><path d="M497.45 673.43v10.04M491.15 673.43h12.6M491.15 683.47h12.6" stroke="#52EE7A"/><path d="M521.54 669.38v10.43M515.24 669.38h12.6M515.24 679.81h12.6" stroke="#52EE7A"/><path d="M545.64 668.61v10.43M539.34 668.61h12.6M539.34 679.03h12.6" stroke="#52EE7A"/><path d="M568.02 666.1v10.81M561.72 666.1h12.6M561.72 676.91h12.6" stroke="#52EE7A"/><path d="M621.38 667.45v10.43M615.08 667.45h12.6M615.08 677.87h12.6" stroke="#52EE7A"/><path d="M413.62 762.92v1.39M407.32 762.92h12.6M407.32 764.31h12.6" stroke="#FF84FA"/><path d="M414.82 730.8v6.14M408.52 730.8h12.6M408.52 736.94h12.6" stroke="#FF84FA"/><path d="M416.03 730.59v6.18M409.73 730.59h12.6M409.73 736.77h12.6" stroke="#FF84FA"/><path d="M417.23 729.34v6.37M410.93 729.34h12.6M410.93 735.71h12.6" stroke="#FF84FA"/><path d="M418.61 725.8v6.87M412.31 725.8h12.6M412.31 732.68h12.6" stroke="#FF84FA"/><path d="M419.99 725.38v6.95M413.69 725.38h12.6M413.69 732.33h12.6" stroke="#FF84FA"/><path d="M421.71 722.67v7.34M415.41 722.67h12.6M415.41 730.01h12.6" stroke="#FF84FA"/><path d="M422.91 717.46v8.11M416.61 717.46h12.6M416.61 725.57h12.6" stroke="#FF84FA"/><path d="M424.12 725.38v6.95M417.82 725.38h12.6M417.82 732.33h12.6" stroke="#FF84FA"/><path d="M425.15 721.21v7.57M418.85 721.21h12.6M418.85 728.78h12.6" stroke="#FF84FA"/><path d="M426.35 719.33v7.84M420.05 719.33h12.6M420.05 727.17h12.6" stroke="#FF84FA"/><path d="M427.73 714.95v8.5M421.43 714.95h12.6M421.43 723.45h12.6" stroke="#FF84FA"/><path d="M429.28 712.65v8.84M422.98 712.65h12.6M422.98 721.5h12.6" stroke="#FF84FA"/><path d="M430.31 716.42v8.26M424.01 716.42h12.6M424.01 724.68h12.6" stroke="#FF84FA"/><path d="M432.03 709.31v9.35M425.73 709.31h12.6M425.73 718.66h12.6" stroke="#FF84FA"/><path d="M433.76 709.74v9.27M427.46 709.74h12.6M427.46 719h12.6" stroke="#FF84FA"/><path d="M435.48 711.4v9.04M429.18 711.4h12.6M429.18 720.43h12.6" stroke="#FF84FA"/><path d="M437.2 702.65v10.31M430.9 702.65h12.6M430.9 712.96h12.6" stroke="#FF84FA"/><path d="M438.58 706.18v9.81M432.28 706.18h12.6M432.28 715.99h12.6" stroke="#FF84FA"/><path d="M439.95 709.74v9.27M433.65 709.74h12.6M433.65 719h12.6" stroke="#FF84FA"/><path d="M441.5 702.86v10.27M435.2 702.86h12.6M435.2 713.13h12.6" stroke="#FF84FA"/><path d="M443.05 708.69v9.42M436.75 708.69h12.6M436.75 718.12h12.6" stroke="#FF84FA"/><path d="M447.7 715.99v8.34M441.4 715.99h12.6M441.4 724.33h12.6" stroke="#FF84FA"/><path d="M452.35 710.99v9.08M446.05 710.99h12.6M446.05 720.07h12.6" stroke="#FF84FA"/><path d="M459.92 701.18v10.54M453.62 701.18h12.6M453.62 711.72h12.6" stroke="#FF84FA"/><path d="M465.17 710.99v9.08M458.87 710.99h12.6M458.87 720.07h12.6" stroke="#FF84FA"/><path d="M497.45 700.47v11.2M491.15 700.47h12.6M491.15 711.67h12.6" stroke="#FF84FA"/><path d="M521.54 694.48v11.59M515.24 694.48h12.6M515.24 706.07h12.6" stroke="#FF84FA"/><path d="M545.64 701.24v11.2M539.34 701.24h12.6M539.34 712.44h12.6" stroke="#FF84FA"/><path d="M568.02 700.47v11.2M561.72 700.47h12.6M561.72 711.67h12.6" stroke="#FF84FA"/><path d="M621.38 717.27v8.88M615.08 717.27h12.6M615.08 726.15h12.6" stroke="#FF84FA"/></g>
</g>
<path d="M568.12 584.15V772.8" stroke="#111" stroke-width="2" stroke-dasharray="2.7 6.56" fill="none"/>
</g>
</svg></body></html>
